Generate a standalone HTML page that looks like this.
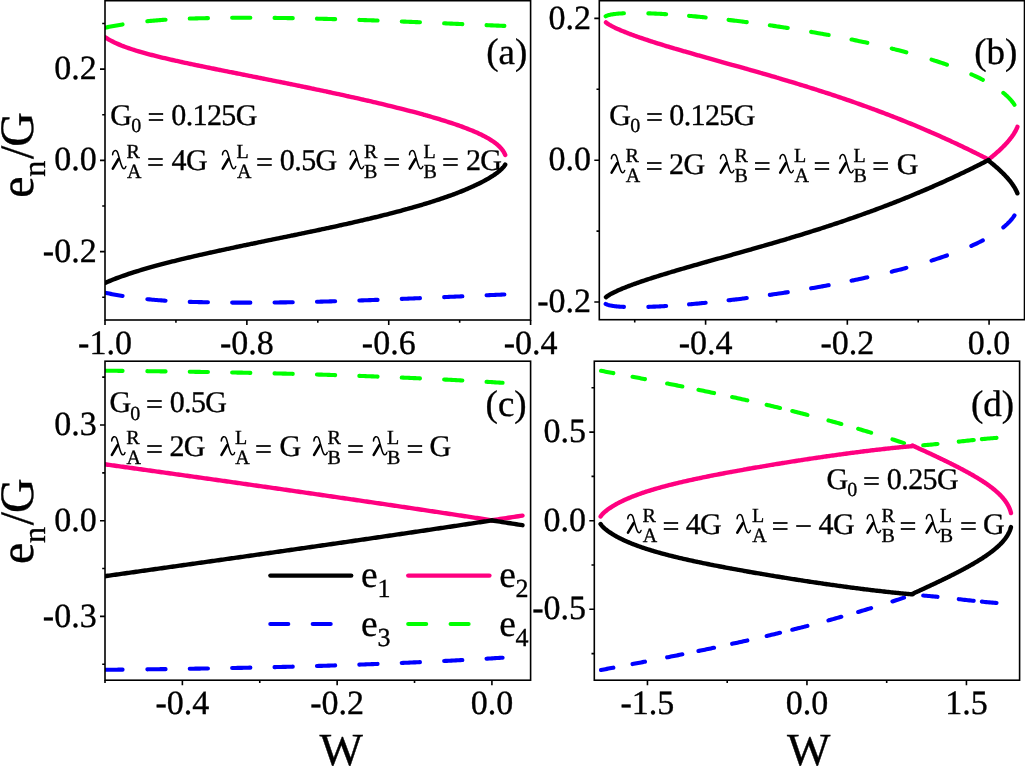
<!DOCTYPE html><html><head><meta charset="utf-8"><title>e_n/G vs W</title>
<style>html,body{margin:0;padding:0;background:#fff;overflow:hidden}svg{display:block;will-change:transform}text{font-family:"Liberation Serif", serif;fill:#000;stroke:#000;stroke-width:0.35px;text-rendering:geometricPrecision}</style></head><body>
<svg width="1025" height="767" viewBox="0 0 1025 767">
<rect width="1025" height="767" fill="#fff"/>
<defs>
<clipPath id="clipa"><rect x="105" y="0.7" width="425.6" height="319.3"/></clipPath>
<clipPath id="clipb"><rect x="599.3" y="0.7" width="425.2" height="319"/></clipPath>
<clipPath id="clipc"><rect x="105" y="361.2" width="425.6" height="319"/></clipPath>
<clipPath id="clipd"><rect x="594.3" y="361.2" width="425.3" height="319"/></clipPath>
</defs>
<path d="M104.78 27.76L106.27 27.44L107.75 27.13L109.23 26.83L110.72 26.53L112.2 26.24L113.68 25.96L115.17 25.68L116.65 25.41L118.14 25.15L119.63 24.9L121.11 24.65L122.6 24.4L124.08 24.17L125.57 23.94L127.06 23.71L128.55 23.49L130.03 23.28L131.52 23.07L133.01 22.87L134.5 22.67L135.99 22.48L137.48 22.3L138.97 22.12L140.46 21.94L141.95 21.78L143.44 21.61L144.93 21.45L146.42 21.3L147.91 21.15L149.41 21L150.9 20.86L152.39 20.73L153.88 20.6L155.38 20.47L156.87 20.35L158.36 20.23L159.86 20.11L161.35 20L162.84 19.9L164.34 19.8L165.83 19.7L167.33 19.6L168.82 19.51L170.32 19.42L171.82 19.34L173.31 19.26L174.81 19.18L176.3 19.11L177.8 19.04L179.3 18.97L180.8 18.9L182.29 18.84L183.79 18.78L185.29 18.72L186.79 18.67L188.29 18.61L189.78 18.56L191.28 18.52L192.78 18.47L194.28 18.43L195.78 18.39L197.28 18.35L198.78 18.31L200.28 18.27L201.78 18.24L203.28 18.21L204.78 18.18L206.28 18.15L207.79 18.12L209.29 18.09L210.79 18.07L212.29 18.04L213.79 18.02L215.29 17.99L216.8 17.97L218.3 17.95L219.8 17.93L221.3 17.92L222.81 17.9L224.31 17.88L225.81 17.87L227.32 17.85L228.82 17.84L230.33 17.83L231.83 17.82L233.33 17.81L234.84 17.8L236.34 17.79L237.85 17.79L239.35 17.78L240.86 17.78L242.36 17.77L243.87 17.77L245.37 17.77L246.88 17.77L248.38 17.77L249.89 17.77L251.4 17.77L252.9 17.77L254.41 17.78L255.91 17.78L257.42 17.79L258.93 17.79L260.43 17.8L261.94 17.81L263.45 17.82L264.95 17.83L266.46 17.84L267.97 17.85L269.48 17.86L270.98 17.88L272.49 17.89L274 17.91L275.51 17.92L277.01 17.94L278.52 17.96L280.03 17.98L281.54 18L283.05 18.02L284.55 18.04L286.06 18.06L287.57 18.08L289.08 18.11L290.59 18.13L292.1 18.15L293.6 18.18L295.11 18.21L296.62 18.23L298.13 18.26L299.64 18.29L301.15 18.32L302.66 18.35L304.17 18.38L305.68 18.41L307.18 18.44L308.69 18.48L310.2 18.51L311.71 18.54L313.22 18.58L314.73 18.61L316.24 18.65L317.75 18.68L319.26 18.72L320.77 18.76L322.28 18.8L323.79 18.84L325.3 18.88L326.81 18.92L328.32 18.96L329.83 19L331.33 19.04L332.84 19.08L334.35 19.13L335.86 19.17L337.37 19.21L338.88 19.26L340.39 19.3L341.9 19.35L343.41 19.4L344.92 19.44L346.43 19.49L347.94 19.54L349.45 19.59L350.96 19.64L352.47 19.69L353.98 19.74L355.49 19.79L357 19.84L358.51 19.89L360.01 19.94L361.52 19.99L363.03 20.04L364.54 20.1L366.05 20.15L367.56 20.2L369.07 20.26L370.58 20.31L372.09 20.37L373.6 20.42L375.1 20.48L376.61 20.53L378.12 20.59L379.63 20.65L381.14 20.7L382.65 20.76L384.16 20.82L385.66 20.88L387.17 20.93L388.68 20.99L390.19 21.05L391.7 21.11L393.21 21.17L394.71 21.23L396.22 21.29L397.73 21.35L399.24 21.41L400.74 21.47L402.25 21.53L403.76 21.59L405.27 21.66L406.77 21.72L408.28 21.78L409.79 21.84L411.29 21.91L412.8 21.97L414.31 22.03L415.81 22.09L417.32 22.16L418.82 22.22L420.33 22.28L421.84 22.35L423.34 22.41L424.85 22.48L426.35 22.54L427.86 22.6L429.36 22.67L430.87 22.73L432.37 22.8L433.88 22.86L435.38 22.93L436.89 22.99L438.39 23.06L439.9 23.12L441.4 23.19L442.9 23.25L444.41 23.32L445.91 23.38L447.42 23.45L448.92 23.51L450.42 23.58L451.92 23.64L453.43 23.71L454.93 23.78L456.43 23.84L457.93 23.91L459.44 23.97L460.94 24.04L462.44 24.1L463.94 24.17L465.44 24.23L466.94 24.3L468.44 24.36L469.94 24.43L471.44 24.49L472.94 24.56L474.44 24.62L475.94 24.69L477.44 24.75L478.94 24.82L480.44 24.88L481.94 24.95L483.44 25.01L484.94 25.07L486.44 25.14L487.93 25.2L489.43 25.27L490.93 25.33L492.43 25.39L493.92 25.46L495.42 25.52L496.92 25.58L498.41 25.64L499.91 25.71L501.41 25.77L502.9 25.83L504.4 25.89" fill="none" stroke="#00ff00" stroke-width="4.1" stroke-linecap="round" stroke-linejoin="round" stroke-dasharray="18.08 25.01 18.26 24.23 18.21 24.2 18.2 24.2 18.2 24.21 18.21 24.21 18.21 24.22 18.22 24.22 18.22 24.22 17.86 5000" stroke-dashoffset="-0" clip-path="url(#clipa)"/>
<path d="M104.78 292.64L106.27 292.96L107.75 293.27L109.23 293.57L110.72 293.87L112.2 294.16L113.68 294.44L115.17 294.72L116.65 294.99L118.14 295.25L119.63 295.5L121.11 295.75L122.6 296L124.08 296.23L125.57 296.46L127.06 296.69L128.55 296.91L130.03 297.12L131.52 297.33L133.01 297.53L134.5 297.73L135.99 297.92L137.48 298.1L138.97 298.28L140.46 298.46L141.95 298.62L143.44 298.79L144.93 298.95L146.42 299.1L147.91 299.25L149.41 299.4L150.9 299.54L152.39 299.67L153.88 299.8L155.38 299.93L156.87 300.05L158.36 300.17L159.86 300.29L161.35 300.4L162.84 300.5L164.34 300.6L165.83 300.7L167.33 300.8L168.82 300.89L170.32 300.98L171.82 301.06L173.31 301.14L174.81 301.22L176.3 301.29L177.8 301.36L179.3 301.43L180.8 301.5L182.29 301.56L183.79 301.62L185.29 301.68L186.79 301.73L188.29 301.79L189.78 301.84L191.28 301.88L192.78 301.93L194.28 301.97L195.78 302.01L197.28 302.05L198.78 302.09L200.28 302.13L201.78 302.16L203.28 302.19L204.78 302.22L206.28 302.25L207.79 302.28L209.29 302.31L210.79 302.33L212.29 302.36L213.79 302.38L215.29 302.41L216.8 302.43L218.3 302.45L219.8 302.47L221.3 302.48L222.81 302.5L224.31 302.52L225.81 302.53L227.32 302.55L228.82 302.56L230.33 302.57L231.83 302.58L233.33 302.59L234.84 302.6L236.34 302.61L237.85 302.61L239.35 302.62L240.86 302.62L242.36 302.63L243.87 302.63L245.37 302.63L246.88 302.63L248.38 302.63L249.89 302.63L251.4 302.63L252.9 302.63L254.41 302.62L255.91 302.62L257.42 302.61L258.93 302.61L260.43 302.6L261.94 302.59L263.45 302.58L264.95 302.57L266.46 302.56L267.97 302.55L269.48 302.54L270.98 302.52L272.49 302.51L274 302.49L275.51 302.48L277.01 302.46L278.52 302.44L280.03 302.42L281.54 302.4L283.05 302.38L284.55 302.36L286.06 302.34L287.57 302.32L289.08 302.29L290.59 302.27L292.1 302.25L293.6 302.22L295.11 302.19L296.62 302.17L298.13 302.14L299.64 302.11L301.15 302.08L302.66 302.05L304.17 302.02L305.68 301.99L307.18 301.96L308.69 301.92L310.2 301.89L311.71 301.86L313.22 301.82L314.73 301.79L316.24 301.75L317.75 301.72L319.26 301.68L320.77 301.64L322.28 301.6L323.79 301.56L325.3 301.52L326.81 301.48L328.32 301.44L329.83 301.4L331.33 301.36L332.84 301.32L334.35 301.27L335.86 301.23L337.37 301.19L338.88 301.14L340.39 301.1L341.9 301.05L343.41 301L344.92 300.96L346.43 300.91L347.94 300.86L349.45 300.81L350.96 300.76L352.47 300.71L353.98 300.66L355.49 300.61L357 300.56L358.51 300.51L360.01 300.46L361.52 300.41L363.03 300.36L364.54 300.3L366.05 300.25L367.56 300.2L369.07 300.14L370.58 300.09L372.09 300.03L373.6 299.98L375.1 299.92L376.61 299.87L378.12 299.81L379.63 299.75L381.14 299.7L382.65 299.64L384.16 299.58L385.66 299.52L387.17 299.47L388.68 299.41L390.19 299.35L391.7 299.29L393.21 299.23L394.71 299.17L396.22 299.11L397.73 299.05L399.24 298.99L400.74 298.93L402.25 298.87L403.76 298.81L405.27 298.74L406.77 298.68L408.28 298.62L409.79 298.56L411.29 298.49L412.8 298.43L414.31 298.37L415.81 298.31L417.32 298.24L418.82 298.18L420.33 298.12L421.84 298.05L423.34 297.99L424.85 297.92L426.35 297.86L427.86 297.8L429.36 297.73L430.87 297.67L432.37 297.6L433.88 297.54L435.38 297.47L436.89 297.41L438.39 297.34L439.9 297.28L441.4 297.21L442.9 297.15L444.41 297.08L445.91 297.02L447.42 296.95L448.92 296.89L450.42 296.82L451.92 296.76L453.43 296.69L454.93 296.62L456.43 296.56L457.93 296.49L459.44 296.43L460.94 296.36L462.44 296.3L463.94 296.23L465.44 296.17L466.94 296.1L468.44 296.04L469.94 295.97L471.44 295.91L472.94 295.84L474.44 295.78L475.94 295.71L477.44 295.65L478.94 295.58L480.44 295.52L481.94 295.45L483.44 295.39L484.94 295.33L486.44 295.26L487.93 295.2L489.43 295.13L490.93 295.07L492.43 295.01L493.92 294.94L495.42 294.88L496.92 294.82L498.41 294.76L499.91 294.69L501.41 294.63L502.9 294.57L504.4 294.51" fill="none" stroke="#0000ff" stroke-width="4.1" stroke-linecap="round" stroke-linejoin="round" stroke-dasharray="18.08 25.01 18.26 24.23 18.21 24.2 18.2 24.2 18.2 24.21 18.21 24.21 18.21 24.22 18.22 24.22 18.22 24.22 17.86 5000" stroke-dashoffset="-0" clip-path="url(#clipa)"/>
<path d="M104.8 37L105.75 37.64L106.63 38.2L107.73 38.88L108.46 39.31L109.82 40.08L110.9 40.67L112.02 41.26L113.16 41.83L113.94 42.22L115.52 42.96L116.75 43.52L117.6 43.89L119.27 44.61L120.57 45.15L121.25 45.42L121.9 45.68L123.08 46.14L124.63 46.72L126.04 47.24L126.74 47.49L127.47 47.75L128.57 48.14L130.4 48.76L131.91 49.26L133.43 49.75L134.05 49.95L134.99 50.25L135.88 50.52L136.56 50.73L137.71 51.08L139.54 51.63L141.37 52.16L143.1 52.66L144.8 53.13L146.51 53.6L148.25 54.07L150.01 54.54L151.79 55L153.59 55.47L155.41 55.93L157.26 56.39L159.12 56.85L161.01 57.31L162.92 57.77L164.84 58.23L166.79 58.68L168.75 59.14L170.62 59.57L172.45 59.98L174.28 60.4L176.1 60.81L176.79 60.96L177.93 61.21L178.85 61.41L179.76 61.61L180.93 61.87L181.59 62.01L183.02 62.32L185.12 62.78L187.07 63.2L188.9 63.59L190.73 63.98L191.54 64.15L192.56 64.36L193.72 64.6L194.39 64.75L195.91 65.06L198.04 65.51L199.87 65.89L201.7 66.26L202.56 66.44L203.53 66.64L204.8 66.9L207.06 67.36L209.01 67.76L210.84 68.13L211.62 68.29L212.67 68.5L213.92 68.76L216.23 69.22L218.16 69.61L219.98 69.98L220.88 70.16L221.81 70.35L223.23 70.63L225.47 71.08L227.3 71.44L227.95 71.58L229.12 71.81L230.33 72.05L230.95 72.17L232.72 72.53L234.61 72.9L236.44 73.27L237.52 73.48L238.27 73.63L239.94 73.96L241.92 74.36L243.75 74.72L244.79 74.93L245.58 75.08L247.23 75.41L249.24 75.81L251.06 76.17L252.13 76.39L252.89 76.54L254.6 76.88L256.55 77.27L258.38 77.63L259.54 77.86L260.21 77.99L262.02 78.35L263.86 78.72L264.5 78.85L265.69 79.09L266.99 79.35L269.35 79.82L271.18 80.19L271.98 80.35L273 80.55L274.49 80.85L276.66 81.29L278.49 81.66L279.5 81.86L280.32 82.02L282.01 82.37L283.97 82.76L285.8 83.13L287.04 83.38L287.63 83.5L289.46 83.88L291.29 84.25L292.08 84.41L293.12 84.62L294.6 84.92L296.77 85.37L298.6 85.74L299.64 85.96L300.43 86.12L302.16 86.48L304.09 86.87L304.68 87L305.91 87.25L307.2 87.52L309.57 88.01L311.4 88.39L312.23 88.56L313.23 88.77L314.74 89.09L316.88 89.54L318.71 89.92L319.76 90.14L320.54 90.31L322.27 90.67L324.2 91.08L326.03 91.47L327.27 91.74L327.85 91.86L329.68 92.25L331.51 92.64L332.25 92.8L333.34 93.04L334.73 93.34L337 93.83L338.82 94.22L339.69 94.41L340.65 94.62L342.15 94.95L344.31 95.42L346.14 95.82L347.07 96.03L347.96 96.23L349.51 96.57L351.62 97.04L353.45 97.44L354.38 97.65L355.28 97.85L356.81 98.2L358.94 98.68L360.76 99.09L361.63 99.29L362.59 99.5L364.02 99.83L366.25 100.34L368.08 100.76L368.79 100.92L369.9 101.18L371.15 101.47L373.51 102.02L375.39 102.46L377.22 102.89L378.19 103.12L379.05 103.32L380.51 103.67L382.7 104.19L384.53 104.63L386.36 105.07L387.4 105.32L388.19 105.52L389.67 105.88L391.85 106.41L393.67 106.86L395.5 107.31L396.4 107.54L397.33 107.77L398.62 108.09L400.82 108.64L402.81 109.15L404.64 109.62L406.47 110.09L407.33 110.31L408.3 110.56L409.47 110.86L410.13 111.04L411.59 111.42L413.7 111.98L415.61 112.49L417.44 112.98L419.27 113.47L419.91 113.65L421.1 113.97L421.95 114.2L422.93 114.47L423.97 114.76L424.75 114.98L425.97 115.32L426.58 115.49L427.95 115.88L429.91 116.44L431.85 117L433.78 117.55L435.68 118.11L437.55 118.67L439.38 119.22L441.21 119.78L443.04 120.34L444.87 120.91L446.67 121.48L448.43 122.04L450.16 122.6L451.88 123.17L453.57 123.73L455.23 124.29L455.84 124.5L456.88 124.86L457.66 125.13L458.5 125.42L459.49 125.78L460.1 125.99L461.32 126.43L463.15 127.1L464.75 127.69L466.25 128.26L467.73 128.84L468.63 129.19L470.46 129.92L472.01 130.55L473.38 131.13L474.12 131.44L474.74 131.7L475.95 132.23L477.36 132.86L478.63 133.44L479.6 133.9L481.1 134.61L482.29 135.2L483.26 135.68L484.6 136.37L485.71 136.97L486.79 137.56L487.85 138.16L488.75 138.68L489.88 139.36L490.57 139.79L491.79 140.57L492.4 140.97L493.6 141.79L494.23 142.25L495.29 143.03L496.06 143.63L496.86 144.28L497.6 144.91L498.32 145.55L499 146.19L499.66 146.83L500.29 147.48L500.88 148.13L501.45 148.79L501.99 149.46L502.49 150.12L502.97 150.8L503.37 151.41L503.83 152.16L504.22 152.85L504.58 153.55L504.9 154.26L505.2 154.97" fill="none" stroke="#ff0080" stroke-width="4.4" stroke-linecap="round" stroke-linejoin="round" clip-path="url(#clipa)"/>
<path d="M104.8 283.1L105.75 282.67L106.63 282.27L107.73 281.79L108.46 281.47L109.82 280.9L110.9 280.44L112.02 279.99L113.16 279.53L113.94 279.22L115.52 278.61L116.75 278.14L117.6 277.82L119.27 277.2L120.57 276.73L121.25 276.48L121.9 276.25L123.08 275.84L124.63 275.3L126.04 274.82L126.74 274.58L127.47 274.33L128.57 273.96L130.4 273.36L131.91 272.87L133.43 272.38L134.05 272.19L134.99 271.89L135.88 271.61L136.56 271.4L137.71 271.05L139.54 270.49L141.37 269.94L143.1 269.42L144.8 268.93L146.51 268.43L148.25 267.93L150.01 267.43L151.79 266.93L153.59 266.43L155.41 265.93L157.26 265.43L159.12 264.93L161.01 264.43L162.92 263.92L164.84 263.42L166.79 262.92L168.75 262.41L170.62 261.94L172.45 261.48L174.28 261.02L176.1 260.57L176.79 260.4L177.93 260.12L178.85 259.9L179.76 259.67L180.93 259.39L181.59 259.23L183.02 258.89L185.12 258.38L187.07 257.92L188.9 257.49L190.73 257.06L191.54 256.87L192.56 256.64L193.72 256.37L194.39 256.21L195.91 255.86L198.04 255.37L199.87 254.96L201.7 254.54L202.56 254.35L203.53 254.13L204.8 253.85L207.06 253.34L209.01 252.91L210.84 252.5L211.62 252.33L212.67 252.1L213.92 251.83L216.23 251.32L218.16 250.9L219.98 250.51L220.88 250.31L221.81 250.11L223.23 249.81L225.47 249.33L227.3 248.94L227.95 248.8L229.12 248.55L230.33 248.29L230.95 248.16L232.72 247.79L234.61 247.39L236.44 247L237.52 246.77L238.27 246.62L239.94 246.27L241.92 245.85L243.75 245.47L244.79 245.25L245.58 245.09L247.23 244.75L249.24 244.33L251.06 243.95L252.13 243.73L252.89 243.57L254.6 243.22L256.55 242.82L258.38 242.44L259.54 242.2L260.21 242.07L262.02 241.69L263.86 241.32L264.5 241.18L265.69 240.94L266.99 240.67L269.35 240.19L271.18 239.81L271.98 239.65L273 239.44L274.49 239.14L276.66 238.69L278.49 238.32L279.5 238.11L280.32 237.94L282.01 237.59L283.97 237.19L285.8 236.82L287.04 236.56L287.63 236.44L289.46 236.06L291.29 235.69L292.08 235.53L293.12 235.31L294.6 235.01L296.77 234.56L298.6 234.18L299.64 233.96L300.43 233.8L302.16 233.44L304.09 233.04L304.68 232.92L305.91 232.66L307.2 232.39L309.57 231.9L311.4 231.51L312.23 231.34L313.23 231.13L314.74 230.81L316.88 230.36L318.71 229.98L319.76 229.75L320.54 229.59L322.27 229.22L324.2 228.81L326.03 228.42L327.27 228.15L327.85 228.03L329.68 227.63L331.51 227.24L332.25 227.08L333.34 226.84L334.73 226.54L337 226.05L338.82 225.65L339.69 225.46L340.65 225.25L342.15 224.91L344.31 224.44L346.14 224.03L347.07 223.82L347.96 223.62L349.51 223.27L351.62 222.8L353.45 222.39L354.38 222.17L355.28 221.97L356.81 221.62L358.94 221.13L360.76 220.71L361.63 220.51L362.59 220.28L364.02 219.95L366.25 219.43L368.08 219L368.79 218.83L369.9 218.56L371.15 218.26L373.51 217.7L375.39 217.24L377.22 216.8L378.19 216.56L379.05 216.35L380.51 215.99L382.7 215.45L384.53 214.99L386.36 214.53L387.4 214.27L388.19 214.07L389.67 213.69L391.85 213.13L393.67 212.66L395.5 212.18L396.4 211.94L397.33 211.7L398.62 211.36L400.82 210.77L402.81 210.23L404.64 209.74L406.47 209.24L407.33 209L408.3 208.73L409.47 208.4L410.13 208.22L411.59 207.81L413.7 207.21L415.61 206.66L417.44 206.13L419.27 205.6L419.91 205.41L421.1 205.06L421.95 204.8L422.93 204.51L423.97 204.2L424.75 203.96L425.97 203.59L426.58 203.4L427.95 202.98L429.91 202.37L431.85 201.76L433.78 201.15L435.68 200.53L437.55 199.92L439.38 199.32L441.21 198.7L443.04 198.08L444.87 197.45L446.67 196.82L448.43 196.2L450.16 195.58L451.88 194.95L453.57 194.33L455.23 193.7L455.84 193.48L456.88 193.08L457.66 192.78L458.5 192.45L459.49 192.07L460.1 191.83L461.32 191.34L463.15 190.61L464.75 189.95L466.25 189.32L466.81 189.09L467.73 188.7L468.63 188.31L470.46 187.51L472.01 186.82L473.38 186.2L474.12 185.86L474.74 185.57L475.95 185.01L477.36 184.33L478.63 183.71L479.6 183.23L481.1 182.48L482.29 181.86L483.26 181.35L484.6 180.63L485.71 180.03L486.79 179.42L487.85 178.81L488.75 178.29L489.88 177.61L490.57 177.19L491.79 176.42L492.4 176.03L493.6 175.25L494.23 174.82L495.29 174.09L496.06 173.54L496.86 172.94L497.6 172.38L498.32 171.82L499 171.26L499.66 170.71L500.29 170.17L500.88 169.63L501.45 169.1L501.99 168.58L502.49 168.06L502.97 167.54L503.37 167.09L503.83 166.54L504.22 166.05L504.9 165.1L505.2 164.63" fill="none" stroke="#000000" stroke-width="4.4" stroke-linecap="round" stroke-linejoin="round" clip-path="url(#clipa)"/>
<path d="M605.5 16.36L606.16 15.99L606.97 15.65L607.9 15.33L608.98 15.03L609.56 14.88L610.18 14.74L610.83 14.61L611.52 14.48L612.24 14.36L612.97 14.25L613.78 14.13L614.6 14.02L615.45 13.92L616.33 13.83L617.25 13.74L618.2 13.66L619.17 13.58L620.19 13.5L621.23 13.44L622.31 13.38L623.41 13.32L624.18 13.29L625.72 13.23L626.92 13.19L627.91 13.16L629.41 13.13L630.7 13.11L631.65 13.1L633.37 13.09L634.75 13.09L635.38 13.09L636.16 13.09L637.25 13.1L639.07 13.11L640.56 13.14L642.09 13.16L642.85 13.18L643.64 13.2L644.72 13.22L646.59 13.28L648.45 13.33L650.12 13.39L651.81 13.46L653.52 13.53L655.27 13.6L655.92 13.63L657.03 13.69L657.79 13.72L658.83 13.77L659.66 13.82L660.64 13.87L661.53 13.92L662.49 13.97L663.39 14.02L664.36 14.08L665.26 14.13L666.25 14.19L667.13 14.24L668.16 14.31L669 14.36L670.11 14.43L670.87 14.48L672.07 14.57L672.73 14.61L674.05 14.7L676.06 14.85L678.1 15L680.15 15.15L682.07 15.3L683.94 15.45L685.81 15.6L686.44 15.66L687.67 15.76L688.58 15.84L689.54 15.92L690.74 16.02L691.41 16.08L692.92 16.21L695.12 16.41L697.01 16.59L698.88 16.76L699.58 16.83L700.75 16.94L701.83 17.04L702.61 17.12L704.11 17.26L706.35 17.49L708.22 17.68L710.08 17.87L711.03 17.97L711.95 18.06L713.38 18.21L715.69 18.46L717.55 18.66L719.42 18.87L720.5 18.99L721.29 19.08L722.91 19.26L725.02 19.5L726.89 19.71L727.76 19.81L728.76 19.93L730.21 20.1L732.5 20.37L734.36 20.6L735.15 20.69L736.23 20.83L737.64 21L739.97 21.29L741.83 21.52L742.65 21.62L743.7 21.76L745.17 21.95L747.44 22.24L749.3 22.48L750.25 22.61L751.17 22.73L752.81 22.95L754.91 23.23L756.77 23.48L757.95 23.64L758.64 23.74L760.51 24L762.38 24.26L763.12 24.36L764.24 24.52L765.72 24.73L767.98 25.05L769.85 25.32L770.95 25.48L771.72 25.59L773.57 25.86L775.45 26.14L776.2 26.25L777.32 26.42L778.83 26.65L781.05 26.98L782.92 27.27L784.11 27.45L784.79 27.56L786.65 27.85L788.52 28.14L789.41 28.28L790.39 28.43L792.07 28.7L794.13 29.03L794.73 29.13L795.99 29.33L797.39 29.56L799.73 29.95L801.6 30.25L802.72 30.44L803.46 30.57L805.33 30.88L807.2 31.2L808.06 31.34L809.07 31.52L810.73 31.8L812.8 32.16L813.4 32.27L814.67 32.49L816.07 32.74L818.4 33.15L820.27 33.49L821.4 33.69L822.14 33.82L824.01 34.16L825.87 34.5L826.74 34.66L827.74 34.85L829.4 35.16L831.48 35.55L833.35 35.9L834.71 36.16L837.08 36.62L838.95 36.98L840.01 37.19L840.82 37.34L842.65 37.71L844.55 38.08L845.29 38.23L846.42 38.46L847.92 38.76L850.15 39.21L852.02 39.59L853.17 39.83L853.89 39.98L855.76 40.37L857.62 40.76L858.38 40.92L859.49 41.16L860.98 41.48L863.23 41.96L865.09 42.36L866.15 42.6L866.96 42.77L868.72 43.16L870.7 43.6L871.28 43.73L872.56 44.02L873.84 44.31L874.43 44.45L876.3 44.87L878.17 45.31L878.91 45.48L880.03 45.74L881.43 46.07L883.77 46.62L885.64 47.07L886.43 47.26L887.5 47.52L888.92 47.87L891.24 48.44L893.11 48.9L893.85 49.09L894.98 49.37L896.29 49.7L898.71 50.32L900.58 50.8L902.45 51.29L903.54 51.58L904.31 51.78L905.93 52.21L908.05 52.78L909.92 53.29L910.65 53.49L911.78 53.81L912.99 54.14L913.65 54.32L915.31 54.79L917.39 55.38L919.25 55.92L919.9 56.11L921.12 56.46L922.17 56.77L922.99 57.01L924.42 57.44L926.65 58.11L928.59 58.7L930.46 59.28L931.06 59.46L932.33 59.86L933.23 60.15L934.19 60.45L935.38 60.83L936.06 61.05L937.52 61.53L939.63 62.22L941.66 62.9L943.53 63.54L945.4 64.18L947.27 64.83L947.86 65.04L949.13 65.49L949.86 65.76L951 66.17L951.84 66.47L952.87 66.85L953.8 67.2L954.74 67.55L955.73 67.92L956.61 68.25L957.64 68.65L958.47 68.97L959.53 69.38L960.34 69.7L961.39 70.12L962.21 70.45L963.22 70.86L964.08 71.21L965.03 71.6L965.94 71.98L966.82 72.35L967.81 72.77L968.58 73.1L969.68 73.58L970.31 73.86L971.55 74.4L973.41 75.25L975.28 76.11L976.98 76.91L978.58 77.68L980.15 78.45L980.88 78.82L981.69 79.23L982.75 79.78L984.62 80.76L986.15 81.58L987.58 82.37L988.35 82.81L988.98 83.17L990.22 83.89L991.69 84.76L993 85.57L993.96 86.16L995.54 87.18L996.76 87.99L997.69 88.63L999.11 89.63L1000.23 90.45L1001.33 91.27L1002.4 92.1L1003.29 92.82L1004.43 93.76L1005.16 94.38L1006.34 95.43L1007.03 96.06L1008.12 97.11L1008.9 97.89L1009.77 98.8L1010.54 99.65L1011.29 100.5L1012 101.36L1012.63 102.16L1013.32 103.08L1013.92 103.94L1014.5 104.8" fill="none" stroke="#00ff00" stroke-width="4.1" stroke-linecap="round" stroke-linejoin="round" stroke-dasharray="18.66 24.41 17.82 22.96 16.67 23.03 18.34 23.32 18.1 23.72 17.78 23.33 16.15 25.06 15.08 26.24 16.22 26.23 12.75 24.33 16.4 5000" stroke-dashoffset="-0.17" clip-path="url(#clipb)"/>
<path d="M605.5 303.84L606.16 304.21L606.97 304.55L607.9 304.87L608.98 305.17L609.56 305.32L610.18 305.46L610.83 305.59L611.52 305.72L612.24 305.84L612.97 305.95L613.78 306.07L614.6 306.18L615.45 306.28L616.33 306.37L617.25 306.46L618.2 306.54L619.17 306.62L620.19 306.7L621.23 306.76L622.31 306.82L623.41 306.88L624.18 306.91L625.72 306.97L626.92 307.01L627.91 307.04L629.41 307.07L630.7 307.09L631.65 307.1L633.37 307.11L634.75 307.11L635.38 307.11L636.16 307.11L637.25 307.1L639.07 307.09L640.56 307.06L642.09 307.04L642.85 307.02L643.64 307L644.72 306.98L646.59 306.92L648.45 306.87L650.12 306.81L651.81 306.74L653.52 306.67L655.27 306.6L655.92 306.57L657.03 306.51L657.79 306.48L658.83 306.43L659.66 306.38L660.64 306.33L661.53 306.28L662.49 306.23L663.39 306.18L664.36 306.12L665.26 306.07L666.25 306.01L667.13 305.96L668.16 305.89L669 305.84L670.11 305.77L670.87 305.72L672.07 305.63L672.73 305.59L674.05 305.5L676.06 305.35L678.1 305.2L680.15 305.05L682.07 304.9L683.94 304.75L685.81 304.6L686.44 304.54L687.67 304.44L688.58 304.36L689.54 304.28L690.74 304.18L691.41 304.12L692.92 303.99L695.12 303.79L697.01 303.61L698.88 303.44L699.58 303.37L700.75 303.26L701.83 303.16L702.61 303.08L704.11 302.94L706.35 302.71L708.22 302.52L710.08 302.33L711.03 302.23L711.95 302.14L713.38 301.99L715.69 301.74L717.55 301.54L719.42 301.33L720.5 301.21L721.29 301.12L722.91 300.94L725.02 300.7L726.89 300.49L727.76 300.39L728.76 300.27L730.21 300.1L732.5 299.83L734.36 299.6L735.15 299.51L736.23 299.37L737.64 299.2L739.97 298.91L741.83 298.68L742.65 298.58L743.7 298.44L745.17 298.25L747.44 297.96L749.3 297.72L750.25 297.59L751.17 297.47L752.81 297.25L754.91 296.97L756.77 296.72L757.95 296.56L758.64 296.46L760.51 296.2L762.38 295.94L763.12 295.84L764.24 295.68L765.72 295.47L767.98 295.15L769.85 294.88L770.95 294.72L771.72 294.61L773.57 294.34L775.45 294.06L776.2 293.95L777.32 293.78L778.83 293.55L781.05 293.22L782.92 292.93L784.11 292.75L784.79 292.64L786.65 292.35L788.52 292.06L789.41 291.92L790.39 291.77L792.07 291.5L794.13 291.17L794.73 291.07L795.99 290.87L797.39 290.64L799.73 290.25L801.6 289.95L802.72 289.76L803.46 289.63L805.33 289.32L807.2 289L808.06 288.86L809.07 288.68L810.73 288.4L812.8 288.04L813.4 287.93L814.67 287.71L816.07 287.46L818.4 287.05L820.27 286.71L821.4 286.51L822.14 286.38L824.01 286.04L825.87 285.7L826.74 285.54L827.74 285.35L829.4 285.04L831.48 284.65L833.35 284.3L834.71 284.04L837.08 283.58L838.95 283.22L840.01 283.01L840.82 282.86L842.65 282.49L844.55 282.12L845.29 281.97L846.42 281.74L847.92 281.44L850.15 280.99L852.02 280.61L853.17 280.37L853.89 280.22L855.76 279.83L857.62 279.44L858.38 279.28L859.49 279.04L860.98 278.72L863.23 278.24L865.09 277.84L866.15 277.6L866.96 277.43L868.72 277.04L870.7 276.6L871.28 276.47L872.56 276.18L873.84 275.89L874.43 275.75L876.3 275.33L878.17 274.89L878.91 274.72L880.03 274.46L881.43 274.13L883.77 273.58L885.64 273.13L886.43 272.94L887.5 272.68L888.92 272.33L891.24 271.76L893.11 271.3L893.85 271.11L894.98 270.83L896.29 270.5L898.71 269.88L900.58 269.4L902.45 268.91L903.54 268.62L904.31 268.42L905.93 267.99L908.05 267.42L909.92 266.91L910.65 266.71L911.78 266.39L912.99 266.06L913.65 265.88L915.31 265.41L917.39 264.82L919.25 264.28L919.9 264.09L921.12 263.74L922.17 263.43L922.99 263.19L924.42 262.76L926.65 262.09L928.59 261.5L930.46 260.92L931.06 260.74L932.33 260.34L933.23 260.05L934.19 259.75L935.38 259.37L936.06 259.15L937.52 258.67L939.63 257.98L941.66 257.3L943.53 256.66L945.4 256.02L947.27 255.37L947.86 255.16L949.13 254.71L949.86 254.44L951 254.03L951.84 253.73L952.87 253.35L953.8 253L954.74 252.65L955.73 252.28L956.61 251.95L957.64 251.55L958.47 251.23L959.53 250.82L960.34 250.5L961.39 250.08L962.21 249.75L963.22 249.34L964.08 248.99L965.03 248.6L965.94 248.22L966.82 247.85L967.81 247.43L968.58 247.1L969.68 246.62L970.31 246.34L971.55 245.8L973.41 244.95L975.28 244.09L976.98 243.29L978.58 242.52L980.15 241.75L980.88 241.38L981.69 240.97L982.75 240.42L984.62 239.44L986.15 238.62L987.58 237.83L988.35 237.39L988.98 237.03L990.22 236.31L991.69 235.44L993 234.63L993.96 234.04L995.54 233.02L996.76 232.21L997.69 231.57L999.11 230.57L1000.23 229.75L1001.33 228.93L1002.4 228.1L1003.29 227.38L1004.43 226.44L1005.16 225.82L1006.34 224.77L1007.03 224.14L1008.12 223.09L1008.9 222.31L1009.77 221.4L1010.54 220.55L1011.29 219.7L1012 218.84L1012.63 218.04L1013.32 217.12L1013.92 216.26L1014.5 215.4" fill="none" stroke="#0000ff" stroke-width="4.1" stroke-linecap="round" stroke-linejoin="round" stroke-dasharray="18.66 24.41 17.82 22.96 16.67 23.03 18.34 23.32 18.1 23.72 17.78 23.33 16.15 25.06 15.08 26.24 16.22 26.23 12.75 24.33 16.4 5000" stroke-dashoffset="-0.17" clip-path="url(#clipb)"/>
<path d="M606 22.44L606.48 22.82L607.01 23.22L607.59 23.64L608.24 24.06L608.93 24.5L609.49 24.84L610.09 25.18L610.92 25.65L611.81 26.14L612.76 26.63L613.77 27.14L614.74 27.61L615.38 27.92L615.94 28.19L616.52 28.45L617.11 28.73L617.72 29L618.34 29.28L618.97 29.56L619.62 29.84L620.28 30.12L620.96 30.41L621.65 30.7L622.35 31L623.07 31.29L623.8 31.59L624.55 31.89L625.22 32.16L626.08 32.5L626.87 32.81L627.67 33.12L628.48 33.43L629.31 33.75L630.15 34.07L631.01 34.39L631.88 34.71L632.77 35.04L633.67 35.37L634.58 35.7L635.5 36.03L636.44 36.36L637.4 36.7L638.37 37.04L639.19 37.33L640.34 37.73L640.94 37.93L642.38 38.42L643.41 38.78L644.43 39.12L645.53 39.49L646.18 39.7L647.71 40.21L648.81 40.57L649.68 40.85L651.07 41.3L652.22 41.67L653.17 41.98L654.56 42.42L655.75 42.8L656.66 43.09L658.17 43.56L659.4 43.94L660.16 44.18L661.9 44.72L663.18 45.11L664.47 45.5L665.4 45.79L667.09 46.3L668.42 46.7L669.76 47.1L670.64 47.37L672.39 47.89L673.88 48.33L675.27 48.74L675.88 48.92L676.69 49.16L677.63 49.44L679.38 49.95L681.01 50.43L682.48 50.85L683.96 51.28L684.62 51.47L685.46 51.72L686.36 51.98L686.97 52.15L688.11 52.48L689.86 52.98L691.59 53.47L693.15 53.92L694.73 54.37L696.33 54.82L697.93 55.28L698.59 55.47L699.55 55.74L700.34 55.96L701.19 56.2L702.09 56.45L702.84 56.66L703.83 56.94L704.5 57.13L705.58 57.44L706.18 57.6L707.33 57.93L709.08 58.42L710.82 58.91L712.57 59.4L714.32 59.89L716.06 60.37L717.81 60.86L719.56 61.35L721.3 61.84L721.9 62.01L723.05 62.33L723.72 62.51L724.8 62.82L725.55 63.03L726.54 63.3L727.4 63.54L728.29 63.79L729.25 64.06L730.04 64.28L731.13 64.59L731.79 64.77L733.01 65.11L734.91 65.65L736.83 66.18L738.75 66.72L740.52 67.22L742.27 67.71L744.02 68.21L744.62 68.38L745.76 68.7L746.61 68.94L747.51 69.19L748.6 69.5L749.26 69.69L750.61 70.07L752.64 70.65L754.5 71.17L756.25 71.67L757.99 72.17L758.8 72.4L759.74 72.67L760.88 73L761.49 73.17L762.97 73.6L764.98 74.18L766.73 74.68L768.47 75.19L769.34 75.44L770.22 75.69L771.49 76.06L773.66 76.69L775.46 77.22L777.21 77.74L778.03 77.98L778.96 78.25L780.23 78.63L782.45 79.28L784.2 79.8L785.94 80.32L786.93 80.62L787.69 80.84L789.2 81.29L791.18 81.89L792.93 82.42L793.76 82.67L794.68 82.95L796.07 83.37L798.17 84.01L799.92 84.55L800.71 84.79L801.67 85.08L803.06 85.51L805.16 86.16L806.91 86.7L807.79 86.98L808.66 87.25L810.18 87.73L812.15 88.34L813.9 88.9L814.99 89.24L815.64 89.45L817.39 90L819.14 90.56L819.87 90.79L820.88 91.12L822.32 91.58L824.38 92.25L826.13 92.82L827.28 93.19L827.87 93.39L829.62 93.96L831.37 94.53L832.29 94.83L833.11 95.11L834.81 95.67L836.61 96.27L837.35 96.52L838.36 96.85L839.91 97.38L841.85 98.03L842.48 98.24L843.6 98.62L845.06 99.12L847.09 99.82L848.84 100.42L850.26 100.91L852.33 101.63L854.08 102.24L855.52 102.74L857.57 103.46L858.17 103.68L859.32 104.08L860.84 104.62L862.81 105.33L863.52 105.58L864.56 105.95L866.21 106.55L868.05 107.21L868.92 107.53L869.8 107.85L871.55 108.49L873.3 109.13L874.37 109.53L875.04 109.78L876.79 110.43L878.54 111.08L879.88 111.58L882.03 112.39L882.66 112.63L883.78 113.05L885.45 113.69L887.27 114.38L888.25 114.76L889.02 115.05L890.77 115.73L892.51 116.41L893.91 116.95L896.01 117.77L896.75 118.07L897.75 118.46L899.5 119.15L901.25 119.85L902.49 120.34L904.74 121.25L905.37 121.51L906.49 121.96L908.24 122.67L909.98 123.38L911.19 123.87L913.48 124.82L914.12 125.08L915.23 125.54L916.97 126.27L918.72 127L920.02 127.55L922.21 128.48L922.99 128.81L923.96 129.22L925.71 129.97L927.45 130.72L928.98 131.37L930.95 132.23L931.99 132.68L932.7 132.99L934.44 133.76L935.01 134.01L936.19 134.53L937.94 135.3L939.68 136.08L941.11 136.72L943.18 137.65L944.18 138.1L944.92 138.44L946.67 139.24L947.26 139.51L948.42 140.03L950.16 140.84L951.91 141.64L953.47 142.37L955.41 143.27L956.59 143.83L957.15 144.09L958.9 144.91L959.73 145.31L960.65 145.74L962.39 146.57L964.14 147.41L965.89 148.25L967.64 149.1L969.23 149.87L971.13 150.8L972.42 151.44L974.62 152.52L975.63 153.02L976.37 153.39L978.12 154.26L978.85 154.63L979.87 155.14L981.61 156.02L983.36 156.9L985.11 157.79L986.85 158.69L988.6 159.58" fill="none" stroke="#ff0080" stroke-width="4.4" stroke-linecap="round" stroke-linejoin="round" clip-path="url(#clipb)"/>
<path d="M988.6 159.46L989.13 159.05L989.65 158.63L990.18 158.21L990.69 157.8L991.23 157.36L991.71 156.97L992.28 156.5L992.81 156.06L993.3 155.66L993.86 155.18L994.39 154.74L994.91 154.29L995.4 153.87L995.96 153.38L996.49 152.92L997.02 152.46L997.54 151.99L998.07 151.52L998.6 151.05L999.12 150.56L999.65 150.08L1000.17 149.59L1000.7 149.09L1001.19 148.63L1001.68 148.16L1002.14 147.7L1002.63 147.23L1003.07 146.79L1003.55 146.3L1003.99 145.86L1004.45 145.39L1004.89 144.93L1005.32 144.47L1005.75 144.02L1006.17 143.57L1006.58 143.12L1006.99 142.67L1007.4 142.2L1007.9 141.63L1008.33 141.14L1008.72 140.67L1009.12 140.2L1009.51 139.72L1009.9 139.24L1010.3 138.74L1010.67 138.26L1011.09 137.72L1011.48 137.2L1011.86 136.69L1012.27 136.12L1012.66 135.55L1013.05 134.99L1013.42 134.43L1013.78 133.87L1014.11 133.35L1014.47 132.77L1014.8 132.22L1015.11 131.67L1015.41 131.13L1015.7 130.59L1015.98 130.05L1016.31 129.38L1016.61 128.74L1016.86 128.18L1017.14 127.53L1017.4 126.87" fill="none" stroke="#ff0080" stroke-width="4.4" stroke-linecap="round" stroke-linejoin="round" clip-path="url(#clipb)"/>
<path d="M606 297.16L606.48 296.78L607.01 296.38L607.59 295.96L608.24 295.54L608.93 295.1L609.49 294.76L610.09 294.42L610.92 293.95L611.81 293.46L612.76 292.97L613.77 292.46L614.74 291.99L615.38 291.68L615.94 291.41L616.52 291.15L617.11 290.87L617.72 290.6L618.34 290.32L618.97 290.04L619.62 289.76L620.28 289.48L620.96 289.19L621.65 288.9L622.35 288.6L623.07 288.31L623.8 288.01L624.55 287.71L625.22 287.44L626.08 287.1L626.87 286.79L627.67 286.48L628.48 286.17L629.31 285.85L630.15 285.53L631.01 285.21L631.88 284.89L632.77 284.56L633.67 284.23L634.58 283.9L635.5 283.57L636.44 283.24L637.4 282.9L638.37 282.56L639.19 282.27L640.34 281.87L640.94 281.67L642.38 281.18L643.41 280.82L644.43 280.48L645.53 280.11L646.18 279.9L647.71 279.39L648.81 279.03L649.68 278.75L651.07 278.3L652.22 277.93L653.17 277.62L654.56 277.18L655.75 276.8L656.66 276.51L658.17 276.04L659.4 275.66L660.16 275.42L661.9 274.88L663.18 274.49L664.47 274.1L665.4 273.81L667.09 273.3L668.42 272.9L669.76 272.5L670.64 272.23L672.39 271.71L673.88 271.27L675.27 270.86L675.88 270.68L676.69 270.44L677.63 270.16L679.38 269.65L681.01 269.17L682.48 268.75L683.96 268.32L684.62 268.13L685.46 267.88L686.36 267.62L686.97 267.45L688.11 267.12L689.86 266.62L691.59 266.13L693.15 265.68L694.73 265.23L696.33 264.78L697.93 264.32L698.59 264.13L699.55 263.86L700.34 263.64L701.19 263.4L702.09 263.15L702.84 262.94L703.83 262.66L704.5 262.47L705.58 262.16L706.18 262L707.33 261.67L709.08 261.18L710.82 260.69L712.57 260.2L714.32 259.71L716.06 259.23L717.81 258.74L719.56 258.25L721.3 257.76L721.9 257.59L723.05 257.27L723.72 257.09L724.8 256.78L725.55 256.57L726.54 256.3L727.4 256.06L728.29 255.81L729.25 255.54L730.04 255.32L731.13 255.01L731.79 254.83L733.01 254.49L734.91 253.95L736.83 253.42L738.75 252.88L740.52 252.38L742.27 251.89L744.02 251.39L744.62 251.22L745.76 250.9L746.61 250.66L747.51 250.41L748.6 250.1L749.26 249.91L750.61 249.53L752.64 248.95L754.5 248.43L756.25 247.93L757.99 247.43L758.8 247.2L759.74 246.93L760.88 246.6L761.49 246.43L762.97 246L764.98 245.42L766.73 244.92L768.47 244.41L769.34 244.16L770.22 243.91L771.49 243.54L773.66 242.91L775.46 242.38L777.21 241.86L778.03 241.62L778.96 241.35L780.23 240.97L782.45 240.32L784.2 239.8L785.94 239.28L786.93 238.98L787.69 238.76L789.2 238.31L791.18 237.71L792.93 237.18L793.76 236.93L794.68 236.65L796.07 236.23L798.17 235.59L799.92 235.05L800.71 234.81L801.67 234.52L803.06 234.09L805.16 233.44L806.91 232.9L807.79 232.62L808.66 232.35L810.18 231.87L812.15 231.26L813.9 230.7L814.99 230.36L815.64 230.15L817.39 229.6L819.14 229.04L819.87 228.81L820.88 228.48L822.32 228.02L824.38 227.35L826.13 226.78L827.28 226.41L827.87 226.21L829.62 225.64L831.37 225.07L832.29 224.77L833.11 224.49L834.81 223.93L836.61 223.33L837.35 223.08L838.36 222.75L839.91 222.22L841.85 221.57L842.48 221.36L843.6 220.98L845.06 220.48L847.09 219.78L848.84 219.18L850.26 218.69L852.33 217.97L854.08 217.36L855.52 216.86L857.57 216.14L858.17 215.92L859.32 215.52L860.84 214.98L862.81 214.27L863.52 214.02L864.56 213.65L866.21 213.05L868.05 212.39L868.92 212.07L869.8 211.75L871.55 211.11L873.3 210.47L874.37 210.07L875.04 209.82L876.79 209.17L878.54 208.52L879.88 208.02L882.03 207.21L882.66 206.97L883.78 206.55L885.45 205.91L887.27 205.22L888.25 204.84L889.02 204.55L890.77 203.87L892.51 203.19L893.91 202.65L896.01 201.83L896.75 201.53L897.75 201.14L899.5 200.45L901.25 199.75L902.49 199.26L904.74 198.35L905.37 198.09L906.49 197.64L908.24 196.93L909.98 196.22L911.19 195.73L913.48 194.78L914.12 194.52L915.23 194.06L916.97 193.33L918.72 192.6L920.02 192.05L922.21 191.12L922.99 190.79L923.96 190.38L925.71 189.63L927.45 188.88L928.98 188.23L930.95 187.37L931.99 186.92L932.7 186.61L934.44 185.84L935.01 185.59L936.19 185.07L937.94 184.3L939.68 183.52L941.11 182.88L943.18 181.95L944.18 181.5L944.92 181.16L946.67 180.36L947.26 180.09L948.42 179.57L950.16 178.76L951.91 177.96L953.47 177.23L955.41 176.33L956.59 175.77L957.15 175.51L958.9 174.69L959.73 174.29L960.65 173.86L962.39 173.03L964.14 172.19L965.89 171.35L967.64 170.5L969.23 169.73L971.13 168.8L972.42 168.16L974.62 167.08L975.63 166.58L976.37 166.21L978.12 165.34L978.85 164.97L979.87 164.46L981.61 163.58L983.36 162.7L985.11 161.81L986.85 160.91L988.6 160.02" fill="none" stroke="#000000" stroke-width="4.4" stroke-linecap="round" stroke-linejoin="round" clip-path="url(#clipb)"/>
<path d="M988.6 160.74L989.13 161.15L989.65 161.57L990.18 161.99L990.69 162.4L991.23 162.84L991.71 163.23L992.28 163.7L992.81 164.14L993.3 164.54L993.86 165.02L994.39 165.46L994.91 165.91L995.4 166.33L995.96 166.82L996.49 167.28L997.02 167.74L997.54 168.21L998.07 168.68L998.6 169.15L999.12 169.64L999.65 170.12L1000.17 170.61L1000.7 171.11L1001.19 171.57L1001.68 172.04L1002.14 172.5L1002.63 172.97L1003.07 173.41L1003.55 173.9L1003.99 174.34L1004.45 174.81L1004.89 175.27L1005.32 175.73L1005.75 176.18L1006.17 176.63L1006.58 177.08L1006.99 177.53L1007.4 178L1007.9 178.57L1008.33 179.06L1008.72 179.53L1009.12 180L1009.51 180.48L1009.9 180.96L1010.3 181.46L1010.67 181.94L1011.09 182.48L1011.48 183L1011.86 183.51L1012.27 184.08L1012.66 184.65L1013.05 185.21L1013.42 185.77L1013.78 186.33L1014.11 186.85L1014.47 187.43L1014.8 187.98L1015.11 188.53L1015.41 189.07L1015.7 189.61L1015.98 190.15L1016.31 190.82L1016.61 191.46L1016.86 192.02L1017.14 192.67L1017.4 193.33" fill="none" stroke="#000000" stroke-width="4.4" stroke-linecap="round" stroke-linejoin="round" clip-path="url(#clipb)"/>
<path d="M104.8 370.69L106.31 370.71L107.81 370.72L109.32 370.74L110.83 370.75L112.34 370.77L113.84 370.78L115.35 370.8L116.86 370.82L118.37 370.83L119.87 370.85L121.38 370.86L122.89 370.88L124.4 370.9L125.9 370.91L127.41 370.93L128.92 370.95L130.43 370.96L131.93 370.98L133.44 371L134.95 371.01L136.46 371.03L137.96 371.05L139.47 371.07L140.98 371.08L142.49 371.1L143.99 371.12L145.5 371.14L147.01 371.16L148.52 371.18L150.02 371.19L151.53 371.21L153.04 371.23L154.55 371.25L156.05 371.27L157.56 371.29L159.07 371.31L160.58 371.33L162.08 371.35L163.59 371.37L165.1 371.39L166.61 371.41L168.11 371.43L169.62 371.45L171.13 371.47L172.64 371.49L174.14 371.51L175.65 371.54L177.16 371.56L178.67 371.58L180.17 371.6L181.68 371.62L183.19 371.65L184.7 371.67L186.2 371.69L187.71 371.71L189.22 371.74L190.73 371.76L192.24 371.78L193.74 371.81L195.25 371.83L196.76 371.86L198.27 371.88L199.77 371.9L201.28 371.93L202.79 371.95L204.3 371.98L205.8 372L207.31 372.03L208.82 372.05L210.33 372.08L211.83 372.11L213.34 372.13L214.85 372.16L216.36 372.19L217.86 372.21L219.37 372.24L220.88 372.27L222.39 372.29L223.89 372.32L225.4 372.35L226.91 372.38L228.42 372.41L229.92 372.44L231.43 372.46L232.94 372.49L234.45 372.52L235.95 372.55L237.46 372.58L238.97 372.61L240.48 372.64L241.98 372.67L243.49 372.7L245 372.74L246.51 372.77L248.01 372.8L249.52 372.83L251.03 372.86L252.54 372.89L254.04 372.93L255.55 372.96L257.06 372.99L258.57 373.03L260.07 373.06L261.58 373.09L263.09 373.13L264.6 373.16L266.1 373.2L267.61 373.23L269.12 373.27L270.62 373.3L272.13 373.34L273.64 373.37L275.15 373.41L276.65 373.45L278.16 373.48L279.67 373.52L281.18 373.56L282.68 373.59L284.19 373.63L285.7 373.67L287.21 373.71L288.71 373.75L290.22 373.79L291.73 373.82L293.23 373.86L294.74 373.9L296.25 373.94L297.76 373.98L299.26 374.03L300.77 374.07L302.28 374.11L303.78 374.15L305.29 374.19L306.8 374.23L308.31 374.28L309.81 374.32L311.32 374.36L312.83 374.4L314.33 374.45L315.84 374.49L317.35 374.54L318.86 374.58L320.36 374.63L321.87 374.67L323.38 374.72L324.88 374.76L326.39 374.81L327.9 374.85L329.41 374.9L330.91 374.95L332.42 375L333.93 375.04L335.43 375.09L336.94 375.14L338.45 375.19L339.95 375.24L341.46 375.29L342.97 375.34L344.47 375.39L345.98 375.44L347.49 375.49L349 375.54L350.5 375.59L352.01 375.64L353.52 375.7L355.02 375.75L356.53 375.8L358.04 375.85L359.54 375.91L361.05 375.96L362.56 376.02L364.06 376.07L365.57 376.12L367.08 376.18L368.58 376.24L370.09 376.29L371.6 376.35L373.1 376.4L374.61 376.46L376.12 376.52L377.62 376.58L379.13 376.64L380.64 376.69L382.14 376.75L383.65 376.81L385.15 376.87L386.66 376.93L388.17 376.99L389.67 377.05L391.18 377.11L392.69 377.18L394.19 377.24L395.7 377.3L397.21 377.36L398.71 377.43L400.22 377.49L401.73 377.55L403.23 377.62L404.74 377.68L406.24 377.75L407.75 377.81L409.26 377.88L410.76 377.94L412.27 378.01L413.77 378.08L415.28 378.15L416.79 378.21L418.29 378.28L419.8 378.35L421.31 378.42L422.81 378.49L424.32 378.56L425.82 378.63L427.33 378.7L428.84 378.77L430.34 378.84L431.85 378.91L433.35 378.99L434.86 379.06L436.36 379.13L437.87 379.21L439.38 379.28L440.88 379.36L442.39 379.43L443.89 379.51L445.4 379.58L446.91 379.66L448.41 379.73L449.92 379.81L451.42 379.89L452.93 379.97L454.43 380.05L455.94 380.12L457.44 380.2L458.95 380.28L460.46 380.36L461.96 380.44L463.47 380.53L464.97 380.61L466.48 380.69L467.98 380.77L469.49 380.85L470.99 380.94L472.5 381.02L474 381.11L475.51 381.19L477.01 381.28L478.52 381.36L480.03 381.45L481.53 381.53L483.04 381.62L484.54 381.71L486.05 381.8L487.55 381.88L489.06 381.97L490.56 382.06L492.07 382.15L493.57 382.24L495.08 382.33L496.58 382.43L498.09 382.52L499.59 382.61L501.1 382.7L502.6 382.8" fill="none" stroke="#00ff00" stroke-width="4.1" stroke-linecap="round" stroke-linejoin="round" stroke-dasharray="17.75 24.8 18.2 24.2 18.2 24.2 18.2 24.21 18.21 24.21 18.21 24.21 18.21 24.22 18.22 24.23 18.22 24.24 16.08 5000" stroke-dashoffset="-0" clip-path="url(#clipc)"/>
<path d="M104.8 669.81L106.31 669.79L107.81 669.78L109.32 669.76L110.83 669.75L112.34 669.73L113.84 669.72L115.35 669.7L116.86 669.68L118.37 669.67L119.87 669.65L121.38 669.64L122.89 669.62L124.4 669.6L125.9 669.59L127.41 669.57L128.92 669.55L130.43 669.54L131.93 669.52L133.44 669.5L134.95 669.49L136.46 669.47L137.96 669.45L139.47 669.43L140.98 669.42L142.49 669.4L143.99 669.38L145.5 669.36L147.01 669.34L148.52 669.32L150.02 669.31L151.53 669.29L153.04 669.27L154.55 669.25L156.05 669.23L157.56 669.21L159.07 669.19L160.58 669.17L162.08 669.15L163.59 669.13L165.1 669.11L166.61 669.09L168.11 669.07L169.62 669.05L171.13 669.03L172.64 669.01L174.14 668.99L175.65 668.96L177.16 668.94L178.67 668.92L180.17 668.9L181.68 668.88L183.19 668.85L184.7 668.83L186.2 668.81L187.71 668.79L189.22 668.76L190.73 668.74L192.24 668.72L193.74 668.69L195.25 668.67L196.76 668.64L198.27 668.62L199.77 668.6L201.28 668.57L202.79 668.55L204.3 668.52L205.8 668.5L207.31 668.47L208.82 668.45L210.33 668.42L211.83 668.39L213.34 668.37L214.85 668.34L216.36 668.31L217.86 668.29L219.37 668.26L220.88 668.23L222.39 668.21L223.89 668.18L225.4 668.15L226.91 668.12L228.42 668.09L229.92 668.06L231.43 668.04L232.94 668.01L234.45 667.98L235.95 667.95L237.46 667.92L238.97 667.89L240.48 667.86L241.98 667.83L243.49 667.8L245 667.76L246.51 667.73L248.01 667.7L249.52 667.67L251.03 667.64L252.54 667.61L254.04 667.57L255.55 667.54L257.06 667.51L258.57 667.47L260.07 667.44L261.58 667.41L263.09 667.37L264.6 667.34L266.1 667.3L267.61 667.27L269.12 667.23L270.62 667.2L272.13 667.16L273.64 667.13L275.15 667.09L276.65 667.05L278.16 667.02L279.67 666.98L281.18 666.94L282.68 666.91L284.19 666.87L285.7 666.83L287.21 666.79L288.71 666.75L290.22 666.71L291.73 666.68L293.23 666.64L294.74 666.6L296.25 666.56L297.76 666.52L299.26 666.47L300.77 666.43L302.28 666.39L303.78 666.35L305.29 666.31L306.8 666.27L308.31 666.22L309.81 666.18L311.32 666.14L312.83 666.1L314.33 666.05L315.84 666.01L317.35 665.96L318.86 665.92L320.36 665.87L321.87 665.83L323.38 665.78L324.88 665.74L326.39 665.69L327.9 665.65L329.41 665.6L330.91 665.55L332.42 665.5L333.93 665.46L335.43 665.41L336.94 665.36L338.45 665.31L339.95 665.26L341.46 665.21L342.97 665.16L344.47 665.11L345.98 665.06L347.49 665.01L349 664.96L350.5 664.91L352.01 664.86L353.52 664.8L355.02 664.75L356.53 664.7L358.04 664.65L359.54 664.59L361.05 664.54L362.56 664.48L364.06 664.43L365.57 664.38L367.08 664.32L368.58 664.26L370.09 664.21L371.6 664.15L373.1 664.1L374.61 664.04L376.12 663.98L377.62 663.92L379.13 663.86L380.64 663.81L382.14 663.75L383.65 663.69L385.15 663.63L386.66 663.57L388.17 663.51L389.67 663.45L391.18 663.39L392.69 663.32L394.19 663.26L395.7 663.2L397.21 663.14L398.71 663.07L400.22 663.01L401.73 662.95L403.23 662.88L404.74 662.82L406.24 662.75L407.75 662.69L409.26 662.62L410.76 662.56L412.27 662.49L413.77 662.42L415.28 662.35L416.79 662.29L418.29 662.22L419.8 662.15L421.31 662.08L422.81 662.01L424.32 661.94L425.82 661.87L427.33 661.8L428.84 661.73L430.34 661.66L431.85 661.59L433.35 661.51L434.86 661.44L436.36 661.37L437.87 661.29L439.38 661.22L440.88 661.14L442.39 661.07L443.89 660.99L445.4 660.92L446.91 660.84L448.41 660.77L449.92 660.69L451.42 660.61L452.93 660.53L454.43 660.45L455.94 660.38L457.44 660.3L458.95 660.22L460.46 660.14L461.96 660.06L463.47 659.97L464.97 659.89L466.48 659.81L467.98 659.73L469.49 659.65L470.99 659.56L472.5 659.48L474 659.39L475.51 659.31L477.01 659.22L478.52 659.14L480.03 659.05L481.53 658.97L483.04 658.88L484.54 658.79L486.05 658.7L487.55 658.62L489.06 658.53L490.56 658.44L492.07 658.35L493.57 658.26L495.08 658.17L496.58 658.07L498.09 657.98L499.59 657.89L501.1 657.8L502.6 657.7" fill="none" stroke="#0000ff" stroke-width="4.1" stroke-linecap="round" stroke-linejoin="round" stroke-dasharray="17.75 24.8 18.2 24.2 18.2 24.2 18.2 24.21 18.21 24.21 18.21 24.21 18.21 24.22 18.22 24.23 18.22 24.24 16.08 5000" stroke-dashoffset="-0" clip-path="url(#clipc)"/>
<path d="M104.8 464.3L106.3 464.51L107.79 464.71L109.29 464.92L110.78 465.13L112.28 465.34L113.78 465.54L115.27 465.75L116.77 465.96L118.26 466.17L119.76 466.37L121.25 466.58L122.75 466.79L124.25 467L125.74 467.21L127.24 467.41L128.73 467.62L130.23 467.83L131.72 468.04L133.22 468.25L134.72 468.45L136.21 468.66L137.71 468.87L139.2 469.08L140.7 469.29L142.19 469.5L143.69 469.7L145.19 469.91L146.68 470.12L148.18 470.33L149.67 470.54L151.17 470.75L152.66 470.96L154.16 471.17L155.66 471.38L157.15 471.58L158.65 471.79L160.14 472L161.64 472.21L163.13 472.42L164.63 472.63L166.12 472.84L167.62 473.05L169.12 473.26L170.61 473.47L172.11 473.68L173.6 473.89L175.1 474.1L176.59 474.31L178.09 474.52L179.58 474.73L181.08 474.94L182.58 475.15L184.07 475.36L185.57 475.57L187.06 475.78L188.56 475.99L190.05 476.2L191.55 476.41L193.04 476.62L194.54 476.83L196.03 477.04L197.53 477.25L199.03 477.46L200.52 477.67L202.02 477.88L203.51 478.09L205.01 478.31L206.5 478.52L208 478.73L209.49 478.94L210.99 479.15L212.48 479.36L213.98 479.57L215.47 479.78L216.97 480L218.46 480.21L219.96 480.42L221.46 480.63L222.95 480.84L224.45 481.05L225.94 481.27L227.44 481.48L228.93 481.69L230.43 481.9L231.92 482.11L233.42 482.33L234.91 482.54L236.41 482.75L237.9 482.96L239.4 483.18L240.89 483.39L242.39 483.6L243.88 483.81L245.38 484.03L246.87 484.24L248.37 484.45L249.86 484.67L251.36 484.88L252.85 485.09L254.35 485.31L255.84 485.52L257.34 485.73L258.83 485.95L260.33 486.16L261.82 486.37L263.32 486.59L264.81 486.8L266.31 487.01L267.8 487.23L269.3 487.44L270.79 487.66L272.29 487.87L273.78 488.09L275.28 488.3L276.77 488.51L278.27 488.73L279.76 488.94L281.26 489.16L282.75 489.37L284.25 489.59L285.74 489.8L287.24 490.02L288.73 490.23L290.23 490.45L291.72 490.66L293.22 490.88L294.71 491.09L296.2 491.31L297.7 491.52L299.19 491.74L300.69 491.95L302.18 492.17L303.68 492.39L305.17 492.6L306.67 492.82L308.16 493.03L309.66 493.25L311.15 493.47L312.65 493.68L314.14 493.9L315.64 494.12L317.13 494.33L318.62 494.55L320.12 494.77L321.61 494.98L323.11 495.2L324.6 495.42L326.1 495.63L327.59 495.85L329.09 496.07L330.58 496.28L332.07 496.5L333.57 496.72L335.06 496.94L336.56 497.15L338.05 497.37L339.55 497.59L341.04 497.81L342.54 498.03L344.03 498.24L345.52 498.46L347.02 498.68L348.51 498.9L350.01 499.12L351.5 499.34L353 499.55L354.49 499.77L355.98 499.99L357.48 500.21L358.97 500.43L360.47 500.65L361.96 500.87L363.45 501.09L364.95 501.31L366.44 501.53L367.94 501.74L369.43 501.96L370.93 502.18L372.42 502.4L373.91 502.62L375.41 502.84L376.9 503.06L378.4 503.28L379.89 503.5L381.38 503.72L382.88 503.94L384.37 504.16L385.87 504.39L387.36 504.61L388.85 504.83L390.35 505.05L391.84 505.27L393.34 505.49L394.83 505.71L396.32 505.93L397.82 506.15L399.31 506.37L400.8 506.6L402.3 506.82L403.79 507.04L405.29 507.26L406.78 507.48L408.27 507.71L409.77 507.93L411.26 508.15L412.75 508.37L414.25 508.59L415.74 508.82L417.24 509.04L418.73 509.26L420.22 509.48L421.72 509.71L423.21 509.93L424.7 510.15L426.2 510.38L427.69 510.6L429.18 510.82L430.68 511.05L432.17 511.27L433.67 511.49L435.16 511.72L436.65 511.94L438.15 512.17L439.64 512.39L441.13 512.61L442.63 512.84L444.12 513.06L445.61 513.29L447.11 513.51L448.6 513.74L450.09 513.96L451.59 514.19L453.08 514.41L454.57 514.64L456.07 514.86L457.56 515.09L459.05 515.31L460.55 515.54L462.04 515.76L463.53 515.99L465.03 516.22L466.52 516.44L468.01 516.67L469.5 516.89L471 517.12L472.49 517.35L473.98 517.57L475.48 517.8L476.97 518.03L478.46 518.25L479.96 518.48L481.45 518.71L482.94 518.93L484.44 519.16L485.93 519.39L487.42 519.62L488.91 519.84L490.41 520.07L491.9 520.3" fill="none" stroke="#ff0080" stroke-width="4.4" stroke-linecap="round" stroke-linejoin="round" clip-path="url(#clipc)"/>
<path d="M491.9 520.3L493.94 519.99L495.98 519.67L498.02 519.36L500.06 519.05L502.1 518.73L504.14 518.42L506.18 518.11L508.22 517.79L510.26 517.48L512.3 517.17L514.34 516.85L516.38 516.54L518.42 516.23L520.46 515.91L522.5 515.6" fill="none" stroke="#ff0080" stroke-width="4.4" stroke-linecap="round" stroke-linejoin="round" clip-path="url(#clipc)"/>
<path d="M104.8 576.2L106.3 575.99L107.79 575.78L109.29 575.57L110.78 575.36L112.28 575.15L113.77 574.94L115.27 574.73L116.76 574.52L118.26 574.31L119.75 574.1L121.25 573.89L122.74 573.68L124.24 573.47L125.73 573.25L127.23 573.04L128.73 572.83L130.22 572.62L131.72 572.41L133.21 572.2L134.71 571.99L136.2 571.78L137.7 571.57L139.19 571.36L140.69 571.15L142.18 570.94L143.68 570.73L145.17 570.52L146.67 570.31L148.16 570.1L149.66 569.89L151.15 569.68L152.65 569.47L154.15 569.26L155.64 569.05L157.14 568.84L158.63 568.63L160.13 568.42L161.62 568.21L163.12 568L164.61 567.79L166.11 567.57L167.6 567.36L169.1 567.15L170.59 566.94L172.09 566.73L173.58 566.52L175.08 566.31L176.58 566.1L178.07 565.89L179.57 565.68L181.06 565.47L182.56 565.26L184.05 565.05L185.55 564.84L187.04 564.63L188.54 564.42L190.03 564.21L191.53 563.99L193.02 563.78L194.52 563.57L196.01 563.36L197.51 563.15L199 562.94L200.5 562.73L201.99 562.52L203.49 562.31L204.99 562.1L206.48 561.89L207.98 561.67L209.47 561.46L210.97 561.25L212.46 561.04L213.96 560.83L215.45 560.62L216.95 560.41L218.44 560.2L219.94 559.98L221.43 559.77L222.93 559.56L224.42 559.35L225.92 559.14L227.41 558.93L228.91 558.72L230.4 558.5L231.9 558.29L233.39 558.08L234.89 557.87L236.38 557.66L237.88 557.45L239.37 557.24L240.87 557.02L242.36 556.81L243.86 556.6L245.36 556.39L246.85 556.18L248.35 555.96L249.84 555.75L251.34 555.54L252.83 555.33L254.33 555.12L255.82 554.9L257.32 554.69L258.81 554.48L260.31 554.27L261.8 554.05L263.3 553.84L264.79 553.63L266.29 553.42L267.78 553.2L269.28 552.99L270.77 552.78L272.27 552.56L273.76 552.35L275.26 552.14L276.75 551.93L278.25 551.71L279.74 551.5L281.24 551.29L282.73 551.07L284.23 550.86L285.72 550.65L287.22 550.43L288.71 550.22L290.21 550.01L291.7 549.79L293.19 549.58L294.69 549.37L296.18 549.15L297.68 548.94L299.17 548.73L300.67 548.51L302.16 548.3L303.66 548.08L305.15 547.87L306.65 547.65L308.14 547.44L309.64 547.23L311.13 547.01L312.63 546.8L314.12 546.58L315.62 546.37L317.11 546.15L318.61 545.94L320.1 545.72L321.6 545.51L323.09 545.29L324.58 545.08L326.08 544.86L327.57 544.65L329.07 544.43L330.56 544.22L332.06 544L333.55 543.79L335.05 543.57L336.54 543.36L338.04 543.14L339.53 542.93L341.03 542.71L342.52 542.49L344.01 542.28L345.51 542.06L347 541.85L348.5 541.63L349.99 541.41L351.49 541.2L352.98 540.98L354.48 540.76L355.97 540.55L357.46 540.33L358.96 540.11L360.45 539.9L361.95 539.68L363.44 539.46L364.94 539.24L366.43 539.03L367.93 538.81L369.42 538.59L370.91 538.38L372.41 538.16L373.9 537.94L375.4 537.72L376.89 537.5L378.39 537.29L379.88 537.07L381.37 536.85L382.87 536.63L384.36 536.41L385.86 536.19L387.35 535.98L388.84 535.76L390.34 535.54L391.83 535.32L393.33 535.1L394.82 534.88L396.31 534.66L397.81 534.44L399.3 534.22L400.8 534L402.29 533.78L403.78 533.57L405.28 533.35L406.77 533.13L408.27 532.91L409.76 532.69L411.25 532.47L412.75 532.24L414.24 532.02L415.74 531.8L417.23 531.58L418.72 531.36L420.22 531.14L421.71 530.92L423.21 530.7L424.7 530.48L426.19 530.26L427.69 530.04L429.18 529.81L430.67 529.59L432.17 529.37L433.66 529.15L435.15 528.93L436.65 528.7L438.14 528.48L439.64 528.26L441.13 528.04L442.62 527.82L444.12 527.59L445.61 527.37L447.1 527.15L448.6 526.92L450.09 526.7L451.58 526.48L453.08 526.25L454.57 526.03L456.06 525.81L457.56 525.58L459.05 525.36L460.54 525.13L462.04 524.91L463.53 524.69L465.02 524.46L466.52 524.24L468.01 524.01L469.5 523.79L471 523.56L472.49 523.34L473.98 523.11L475.48 522.89L476.97 522.66L478.46 522.44L479.96 522.21L481.45 521.98L482.94 521.76L484.44 521.53L485.93 521.31L487.42 521.08L488.91 520.85L490.41 520.63L491.9 520.4" fill="none" stroke="#000000" stroke-width="4.4" stroke-linecap="round" stroke-linejoin="round" clip-path="url(#clipc)"/>
<path d="M491.9 520.4L493.94 520.72L495.98 521.04L498.02 521.36L500.06 521.68L502.1 522L504.14 522.32L506.18 522.64L508.22 522.96L510.26 523.28L512.3 523.6L514.34 523.92L516.38 524.24L518.42 524.56L520.46 524.88L522.5 525.2" fill="none" stroke="#000000" stroke-width="4.4" stroke-linecap="round" stroke-linejoin="round" clip-path="url(#clipc)"/>
<path d="M601 370.8L602.49 371.08L603.97 371.36L605.46 371.64L606.95 371.91L608.43 372.19L609.92 372.47L611.41 372.75L612.9 373.03L614.38 373.31L615.87 373.59L617.36 373.87L618.84 374.15L620.33 374.43L621.82 374.71L623.3 374.99L624.79 375.27L626.28 375.55L627.76 375.83L629.25 376.12L630.74 376.4L632.22 376.68L633.71 376.97L635.2 377.25L636.68 377.53L638.17 377.82L639.65 378.1L641.14 378.39L642.63 378.68L644.11 378.96L645.6 379.25L647.09 379.54L648.57 379.82L650.06 380.11L651.54 380.4L653.03 380.69L654.51 380.98L656 381.27L657.48 381.56L658.97 381.85L660.46 382.14L661.94 382.43L663.43 382.72L664.91 383.02L666.4 383.31L667.88 383.61L669.37 383.9L670.85 384.19L672.33 384.49L673.82 384.79L675.3 385.08L676.79 385.38L678.27 385.68L679.76 385.98L681.24 386.28L682.72 386.58L684.21 386.88L685.69 387.18L687.17 387.48L688.66 387.78L690.14 388.08L691.62 388.39L693.1 388.69L694.59 389L696.07 389.3L697.55 389.61L699.03 389.92L700.52 390.22L702 390.53L703.48 390.84L704.96 391.15L706.44 391.46L707.92 391.77L709.4 392.08L710.89 392.4L712.37 392.71L713.85 393.03L715.33 393.34L716.81 393.66L718.29 393.97L719.77 394.29L721.25 394.61L722.73 394.93L724.21 395.25L725.69 395.57L727.16 395.89L728.64 396.21L730.12 396.53L731.6 396.86L733.08 397.18L734.56 397.51L736.03 397.84L737.51 398.16L738.99 398.49L740.47 398.82L741.94 399.15L743.42 399.48L744.89 399.81L746.37 400.15L747.85 400.48L749.32 400.82L750.8 401.15L752.27 401.49L753.75 401.83L755.22 402.16L756.7 402.5L758.17 402.84L759.65 403.19L761.12 403.53L762.59 403.87L764.07 404.22L765.54 404.56L767.01 404.91L768.49 405.26L769.96 405.6L771.43 405.95L772.9 406.31L774.37 406.66L775.84 407.01L777.32 407.36L778.79 407.72L780.26 408.08L781.73 408.43L783.2 408.79L784.67 409.15L786.14 409.51L787.6 409.87L789.07 410.24L790.54 410.6L792.01 410.97L793.48 411.33L794.94 411.7L796.41 412.07L797.88 412.44L799.35 412.81L800.81 413.18L802.28 413.55L803.74 413.93L805.21 414.3L806.67 414.68L808.14 415.06L809.6 415.44L811.07 415.82L812.53 416.2L813.99 416.59L815.46 416.97L816.92 417.36L818.38 417.74L819.84 418.13L821.31 418.52L822.77 418.91L824.23 419.3L825.69 419.7L827.15 420.09L828.61 420.49L830.07 420.89L831.53 421.29L832.99 421.69L834.44 422.09L835.9 422.49L837.36 422.9L838.82 423.3L840.28 423.71L841.73 424.12L843.19 424.53L844.64 424.94L846.1 425.35L847.55 425.77L849.01 426.18L850.46 426.6L851.92 427.02L853.37 427.44L854.82 427.86L856.28 428.28L857.73 428.71L859.18 429.13L860.63 429.56L862.08 429.99L863.53 430.42L864.99 430.85L866.43 431.29L867.88 431.72L869.33 432.16L870.78 432.6L872.23 433.04L873.68 433.48L875.13 433.92L876.57 434.36L878.02 434.81L879.47 435.26L880.91 435.71L882.36 436.16L883.8 436.61L885.24 437.06L886.69 437.52L888.13 437.98L889.57 438.44L891.02 438.9L892.46 439.36L893.9 439.82L895.34 440.29L896.78 440.75L898.22 441.22L899.66 441.69L901.1 442.17L902.54 442.64L903.98 443.12L905.42 443.59L906.85 444.07L908.29 444.55L909.73 445.04L911.16 445.52L912.6 446.01L914.14 445.91L915.68 445.82L917.22 445.71L918.76 445.61L920.3 445.49L921.84 445.38L923.37 445.26L924.91 445.13L926.45 445L927.98 444.87L929.52 444.73L931.06 444.59L932.59 444.44L934.13 444.3L935.66 444.14L937.2 443.99L938.73 443.83L940.27 443.67L941.8 443.51L943.34 443.35L944.87 443.19L946.4 443.02L947.94 442.85L949.47 442.68L951 442.51L952.54 442.34L954.07 442.16L955.6 441.99L957.14 441.82L958.67 441.64L960.21 441.47L961.74 441.3L963.27 441.12L964.81 440.95L966.34 440.78L967.87 440.61L969.41 440.44L970.94 440.27L972.48 440.11L974.01 439.94L975.55 439.78L977.08 439.62L978.62 439.46L980.15 439.3L981.69 439.15L983.22 439L984.76 438.85L986.29 438.71L987.83 438.57L989.37 438.43L990.91 438.3L992.44 438.17L993.98 438.05L995.52 437.93L997.06 437.81L998.6 437.7" fill="none" stroke="#00ff00" stroke-width="4.1" stroke-linecap="round" stroke-linejoin="round" stroke-dasharray="12.56 19.54 12.63 22.62 15.5 16.43 15.94 18.52 15.57 19.81 13.78 12.56 15.68 21.72 13.38 17.48 13.57 22.31 12.2 19.69 14.36 21.33 15.09 8.14 14.76 5000" stroke-dashoffset="-0" clip-path="url(#clipd)"/>
<path d="M601 670L602.49 669.72L603.97 669.44L605.46 669.16L606.95 668.89L608.43 668.61L609.92 668.33L611.41 668.05L612.9 667.77L614.38 667.49L615.87 667.21L617.36 666.93L618.84 666.65L620.33 666.37L621.82 666.09L623.3 665.81L624.79 665.53L626.28 665.25L627.76 664.97L629.25 664.68L630.74 664.4L632.22 664.12L633.71 663.83L635.2 663.55L636.68 663.27L638.17 662.98L639.65 662.7L641.14 662.41L642.63 662.12L644.11 661.84L645.6 661.55L647.09 661.26L648.57 660.98L650.06 660.69L651.54 660.4L653.03 660.11L654.51 659.82L656 659.53L657.48 659.24L658.97 658.95L660.46 658.66L661.94 658.37L663.43 658.08L664.91 657.78L666.4 657.49L667.88 657.19L669.37 656.9L670.85 656.61L672.33 656.31L673.82 656.01L675.3 655.72L676.79 655.42L678.27 655.12L679.76 654.82L681.24 654.52L682.72 654.22L684.21 653.92L685.69 653.62L687.17 653.32L688.66 653.02L690.14 652.72L691.62 652.41L693.1 652.11L694.59 651.8L696.07 651.5L697.55 651.19L699.03 650.88L700.52 650.58L702 650.27L703.48 649.96L704.96 649.65L706.44 649.34L707.92 649.03L709.4 648.72L710.89 648.4L712.37 648.09L713.85 647.77L715.33 647.46L716.81 647.14L718.29 646.83L719.77 646.51L721.25 646.19L722.73 645.87L724.21 645.55L725.69 645.23L727.16 644.91L728.64 644.59L730.12 644.27L731.6 643.94L733.08 643.62L734.56 643.29L736.03 642.96L737.51 642.64L738.99 642.31L740.47 641.98L741.94 641.65L743.42 641.32L744.89 640.99L746.37 640.65L747.85 640.32L749.32 639.98L750.8 639.65L752.27 639.31L753.75 638.97L755.22 638.64L756.7 638.3L758.17 637.96L759.65 637.61L761.12 637.27L762.59 636.93L764.07 636.58L765.54 636.24L767.01 635.89L768.49 635.54L769.96 635.2L771.43 634.85L772.9 634.49L774.37 634.14L775.84 633.79L777.32 633.44L778.79 633.08L780.26 632.72L781.73 632.37L783.2 632.01L784.67 631.65L786.14 631.29L787.6 630.93L789.07 630.56L790.54 630.2L792.01 629.83L793.48 629.47L794.94 629.1L796.41 628.73L797.88 628.36L799.35 627.99L800.81 627.62L802.28 627.25L803.74 626.87L805.21 626.5L806.67 626.12L808.14 625.74L809.6 625.36L811.07 624.98L812.53 624.6L813.99 624.21L815.46 623.83L816.92 623.44L818.38 623.06L819.84 622.67L821.31 622.28L822.77 621.89L824.23 621.5L825.69 621.1L827.15 620.71L828.61 620.31L830.07 619.91L831.53 619.51L832.99 619.11L834.44 618.71L835.9 618.31L837.36 617.9L838.82 617.5L840.28 617.09L841.73 616.68L843.19 616.27L844.64 615.86L846.1 615.45L847.55 615.03L849.01 614.62L850.46 614.2L851.92 613.78L853.37 613.36L854.82 612.94L856.28 612.52L857.73 612.09L859.18 611.67L860.63 611.24L862.08 610.81L863.53 610.38L864.99 609.95L866.43 609.51L867.88 609.08L869.33 608.64L870.78 608.2L872.23 607.76L873.68 607.32L875.13 606.88L876.57 606.44L878.02 605.99L879.47 605.54L880.91 605.09L882.36 604.64L883.8 604.19L885.24 603.74L886.69 603.28L888.13 602.82L889.57 602.36L891.02 601.9L892.46 601.44L893.9 600.98L895.34 600.51L896.78 600.05L898.22 599.58L899.66 599.11L901.1 598.63L902.54 598.16L903.98 597.68L905.42 597.21L906.85 596.73L908.29 596.25L909.73 595.76L911.16 595.28L912.6 594.79L914.14 594.89L915.68 594.98L917.22 595.09L918.76 595.19L920.3 595.31L921.84 595.42L923.37 595.54L924.91 595.67L926.45 595.8L927.98 595.93L929.52 596.07L931.06 596.21L932.59 596.36L934.13 596.5L935.66 596.66L937.2 596.81L938.73 596.97L940.27 597.13L941.8 597.29L943.34 597.45L944.87 597.61L946.4 597.78L947.94 597.95L949.47 598.12L951 598.29L952.54 598.46L954.07 598.64L955.6 598.81L957.14 598.98L958.67 599.16L960.21 599.33L961.74 599.5L963.27 599.68L964.81 599.85L966.34 600.02L967.87 600.19L969.41 600.36L970.94 600.53L972.48 600.69L974.01 600.86L975.55 601.02L977.08 601.18L978.62 601.34L980.15 601.5L981.69 601.65L983.22 601.8L984.76 601.95L986.29 602.09L987.83 602.23L989.37 602.37L990.91 602.5L992.44 602.63L993.98 602.75L995.52 602.87L997.06 602.99L998.6 603.1" fill="none" stroke="#0000ff" stroke-width="4.1" stroke-linecap="round" stroke-linejoin="round" stroke-dasharray="12.56 19.54 12.63 22.62 15.5 16.43 15.94 18.52 15.57 19.81 13.78 12.56 15.68 21.72 13.38 17.48 13.57 22.31 12.2 19.69 14.36 21.33 15.09 8.14 14.76 5000" stroke-dashoffset="-0" clip-path="url(#clipd)"/>
<path d="M600.6 516.41L601.04 515.79L601.59 515.11L602.01 514.62L602.48 514.11L603 513.58L603.45 513.14L604.17 512.47L604.83 511.88L605.54 511.28L606.3 510.67L607.1 510.05L607.72 509.58L608.39 509.09L609.15 508.55L609.79 508.11L610.57 507.58L611.29 507.11L611.82 506.78L612.35 506.44L612.9 506.1L613.42 505.78L614.04 505.42L614.62 505.07L615.22 504.73L615.83 504.39L616.45 504.04L617.08 503.69L617.7 503.36L618.38 503L619.04 502.65L619.72 502.3L620.41 501.95L621.12 501.6L621.83 501.25L622.56 500.91L623.29 500.56L624.04 500.21L624.81 499.86L625.58 499.51L626.24 499.21L627.16 498.81L627.97 498.46L628.79 498.11L629.63 497.76L630.47 497.41L631.33 497.06L631.94 496.81L633.08 496.37L633.97 496.02L634.79 495.7L635.79 495.33L636.72 494.98L637.64 494.64L638.61 494.29L639.57 493.95L640.49 493.62L641.53 493.26L642.53 492.92L643.34 492.64L644.56 492.24L645.6 491.9L646.19 491.7L647.61 491.25L648.77 490.88L649.85 490.54L650.46 490.35L651.89 489.92L653.17 489.53L654.29 489.2L655.44 488.86L656.16 488.65L657.59 488.24L658.93 487.87L660.12 487.53L661.32 487.2L662.53 486.87L663.28 486.67L664.71 486.29L666.13 485.91L667.49 485.56L668.76 485.23L670.05 484.9L671.34 484.57L672.65 484.25L673.26 484.1L673.97 483.92L674.68 483.75L675.29 483.6L676.11 483.4L677.53 483.06L678.96 482.72L680.38 482.38L681.8 482.05L683.23 481.72L684.65 481.39L686.08 481.07L687.5 480.75L688.93 480.43L690.35 480.12L691.78 479.8L693.2 479.49L694.63 479.19L696.05 478.88L696.66 478.75L697.48 478.58L698.18 478.43L698.9 478.28L699.72 478.11L700.33 477.98L701.26 477.78L702.81 477.46L704.38 477.14L705.96 476.82L707.45 476.52L708.87 476.23L710.3 475.95L711.72 475.66L712.39 475.53L713.15 475.38L714.03 475.21L715.68 474.89L717.34 474.56L718.85 474.27L720.27 474L721.7 473.73L722.39 473.59L723.12 473.46L724.1 473.27L725.82 472.94L727.39 472.65L728.82 472.38L730.24 472.12L731.06 471.97L731.67 471.86L732.83 471.64L734.52 471.33L735.94 471.07L737.37 470.82L738.2 470.66L738.79 470.56L740.01 470.34L741.64 470.05L743.07 469.79L743.68 469.68L744.49 469.54L745.53 469.35L747.34 469.03L748.76 468.78L750.19 468.53L751.15 468.36L753.04 468.04L754.46 467.79L755.89 467.54L756.88 467.37L758.74 467.05L760.16 466.81L760.76 466.71L761.59 466.57L762.72 466.38L764.44 466.09L765.86 465.85L766.67 465.71L767.28 465.61L768.66 465.37L770.13 465.13L771.56 464.89L772.68 464.71L774.41 464.42L775.83 464.19L776.75 464.04L778.68 463.72L780.11 463.49L780.87 463.36L781.53 463.26L782.94 463.03L784.38 462.8L785.03 462.69L785.8 462.57L787.13 462.35L788.65 462.11L790.08 461.88L791.36 461.68L792.93 461.43L794.35 461.21L795.64 461.01L797.2 460.76L797.8 460.67L798.63 460.54L799.97 460.33L801.48 460.1L802.16 459.99L802.9 459.88L804.33 459.66L805.75 459.44L806.56 459.32L807.17 459.22L808.6 459.01L810.02 458.79L811 458.65L812.87 458.36L814.3 458.15L815.5 457.97L817.15 457.73L817.76 457.64L818.57 457.52L820 457.31L821.42 457.1L822.33 456.97L824.27 456.69L825.7 456.48L826.94 456.3L828.54 456.07L829.26 455.97L829.97 455.87L831.39 455.66L832.82 455.46L833.95 455.31L835.67 455.06L836.31 454.98L837.09 454.87L838.52 454.67L839.94 454.47L841.06 454.32L842.79 454.08L843.46 453.99L844.22 453.89L845.64 453.7L847.07 453.51L848.28 453.34L849.91 453.13L850.71 453.02L851.34 452.94L852.76 452.75L854.19 452.57L855.61 452.38L857.04 452.2L858.08 452.07L859.89 451.84L860.55 451.75L861.31 451.66L862.74 451.48L864.16 451.3L865.55 451.13L867.01 450.95L868.06 450.82L869.86 450.6L870.59 450.52L871.28 450.43L872.71 450.26L874.13 450.1L875.56 449.93L876.98 449.76L878.23 449.62L879.83 449.44L880.8 449.32L882.68 449.11L883.39 449.03L884.11 448.95L885.53 448.8L886.96 448.64L888.38 448.49L889.8 448.33L891.21 448.18L892.65 448.03L893.85 447.91L895.5 447.74L896.49 447.64L898.35 447.45L899.14 447.37L899.78 447.3L901.2 447.16L901.81 447.1L902.63 447.02L904.05 446.89L905.48 446.75L906.9 446.62L908.33 446.48L909.75 446.35L911.17 446.22L912.6 446.1" fill="none" stroke="#ff0080" stroke-width="4.4" stroke-linecap="round" stroke-linejoin="round" clip-path="url(#clipd)"/>
<path d="M912.6 445.6L913.42 445.98L914.24 446.35L914.85 446.62L915.75 447.03L916.64 447.44L917.49 447.83L918.29 448.19L918.89 448.47L919.79 448.88L920.67 449.29L921.46 449.65L922.04 449.91L922.93 450.32L923.81 450.73L924.58 451.08L925.18 451.36L926.08 451.77L926.89 452.15L927.65 452.5L928.33 452.82L929.16 453.2L929.91 453.55L930.57 453.86L931.4 454.25L932.14 454.6L932.82 454.91L933.62 455.29L934.17 455.55L935.07 455.97L935.79 456.31L936.41 456.61L937.23 456.99L937.95 457.33L938.65 457.67L939.36 458.01L940.01 458.32L940.76 458.68L941.36 458.96L942.15 459.34L942.7 459.61L943.53 460.01L944.21 460.34L944.89 460.67L945.56 461L946.24 461.32L946.9 461.65L947.57 461.98L948.23 462.3L948.89 462.62L949.44 462.9L950.2 463.27L950.79 463.57L951.49 463.91L952.13 464.23L952.77 464.55L953.4 464.87L954.03 465.19L954.66 465.51L955.28 465.82L955.91 466.14L956.52 466.46L957.08 466.74L957.75 467.08L958.35 467.4L958.96 467.71L959.56 468.02L960.15 468.33L960.75 468.64L961.34 468.95L961.92 469.26L962.47 469.55L963.09 469.88L963.66 470.18L964.24 470.49L964.8 470.8L965.37 471.1L965.93 471.41L966.49 471.71L967.05 472.01L967.6 472.32L968.15 472.62L968.69 472.92L969.24 473.22L969.77 473.52L970.31 473.82L970.84 474.12L971.37 474.42L971.89 474.72L972.41 475.02L973.26 475.51L973.96 475.91L974.61 476.29L975.47 476.8L976.4 477.36L976.95 477.69L977.75 478.17L978.4 478.57L979.1 479L979.82 479.45L980.45 479.84L981.21 480.32L981.79 480.7L982.57 481.2L983.14 481.57L983.9 482.07L984.49 482.46L985.19 482.93L985.84 483.37L986.46 483.8L987.19 484.3L987.69 484.66L988.5 485.24L989.29 485.81L989.88 486.25L990.46 486.67L991.21 487.25L991.96 487.82L992.58 488.3L993.05 488.68L993.76 489.25L994.38 489.75L995.14 490.39L995.72 490.89L996.46 491.54L997.07 492.08L997.52 492.49L997.97 492.9L998.42 493.32L998.87 493.75L999.32 494.19L999.77 494.63L1000.22 495.09L1000.67 495.55L1001.12 496.02L1001.56 496.5L1002 496.99L1002.46 497.51L1002.91 498.02L1003.36 498.56L1003.81 499.11L1004.2 499.59L1004.65 500.17L1005.08 500.76L1005.51 501.34L1005.91 501.93L1006.31 502.51L1006.69 503.1L1007.06 503.69L1007.4 504.27L1007.75 504.87L1008.08 505.47L1008.39 506.07L1008.69 506.67L1008.97 507.27L1009.25 507.87L1009.5 508.47L1009.75 509.08L1009.98 509.69L1010.2 510.3L1010.4 510.92L1010.59 511.53L1010.76 512.15L1010.92 512.77L1011 513.08" fill="none" stroke="#ff0080" stroke-width="4.4" stroke-linecap="round" stroke-linejoin="round" clip-path="url(#clipd)"/>
<path d="M600.6 524.09L601.04 524.71L601.59 525.39L602.01 525.88L602.48 526.39L603 526.92L603.45 527.36L604.17 528.03L604.83 528.62L605.54 529.22L606.3 529.83L607.1 530.45L607.72 530.92L608.39 531.41L609.15 531.95L609.79 532.39L610.57 532.92L611.29 533.39L611.82 533.72L612.35 534.06L612.9 534.4L613.42 534.72L614.04 535.08L614.62 535.43L615.22 535.77L615.83 536.11L616.45 536.46L617.08 536.81L617.7 537.14L618.38 537.5L619.04 537.85L619.72 538.2L620.41 538.55L621.12 538.9L621.83 539.25L622.56 539.59L623.29 539.94L624.04 540.29L624.81 540.64L625.58 540.99L626.24 541.29L627.16 541.69L627.97 542.04L628.79 542.39L629.63 542.74L630.47 543.09L631.33 543.44L631.94 543.69L633.08 544.13L633.97 544.48L634.79 544.8L635.79 545.17L636.72 545.52L637.64 545.86L638.61 546.21L639.57 546.55L640.49 546.88L641.53 547.24L642.53 547.58L643.34 547.86L644.56 548.26L645.6 548.6L646.19 548.8L647.61 549.25L648.77 549.62L649.85 549.96L650.46 550.15L651.89 550.58L653.17 550.97L654.29 551.3L655.44 551.64L656.16 551.85L657.59 552.26L658.93 552.63L660.12 552.97L661.32 553.3L662.53 553.63L663.28 553.83L664.71 554.21L666.13 554.59L667.49 554.94L668.76 555.27L670.05 555.6L671.34 555.93L672.65 556.25L673.26 556.4L673.97 556.58L674.68 556.75L675.29 556.9L676.11 557.1L677.53 557.44L678.96 557.78L680.38 558.12L681.8 558.45L683.23 558.78L684.65 559.11L686.08 559.43L687.5 559.75L688.93 560.07L690.35 560.38L691.78 560.7L693.2 561.01L694.63 561.31L696.05 561.62L696.66 561.75L697.48 561.92L698.18 562.07L698.9 562.22L699.72 562.39L700.33 562.52L701.26 562.72L702.81 563.04L704.38 563.36L705.96 563.68L707.45 563.98L708.87 564.27L710.3 564.55L711.72 564.84L712.39 564.97L713.15 565.12L714.03 565.29L715.68 565.61L717.34 565.94L718.85 566.23L720.27 566.5L721.7 566.77L722.39 566.91L723.12 567.04L724.1 567.23L725.82 567.56L727.39 567.85L728.82 568.12L730.24 568.38L731.06 568.53L731.67 568.64L732.83 568.86L734.52 569.17L735.94 569.43L737.37 569.68L738.2 569.84L738.79 569.94L740.01 570.16L741.64 570.45L743.07 570.71L743.68 570.82L744.49 570.96L745.53 571.15L747.34 571.47L748.76 571.72L750.19 571.97L751.15 572.14L753.04 572.46L754.46 572.71L755.89 572.96L756.88 573.13L758.74 573.45L760.16 573.69L760.76 573.79L761.59 573.93L762.72 574.12L764.44 574.41L765.86 574.65L766.67 574.79L767.28 574.89L768.66 575.13L770.13 575.37L771.56 575.61L772.68 575.79L774.41 576.08L775.83 576.31L776.75 576.46L778.68 576.78L780.11 577.01L780.87 577.14L781.53 577.24L782.94 577.47L784.38 577.7L785.03 577.81L785.8 577.93L787.13 578.15L788.65 578.39L790.08 578.62L791.36 578.82L792.93 579.07L794.35 579.29L795.64 579.49L797.2 579.74L797.8 579.83L798.63 579.96L799.97 580.17L801.48 580.4L802.16 580.51L802.9 580.62L804.33 580.84L805.75 581.06L806.56 581.18L807.17 581.28L808.6 581.49L810.02 581.71L811 581.85L812.87 582.14L814.3 582.35L815.5 582.53L817.15 582.77L817.76 582.86L818.57 582.98L820 583.19L821.42 583.4L822.33 583.53L824.27 583.81L825.7 584.02L826.94 584.2L828.54 584.43L829.26 584.53L829.97 584.63L831.39 584.84L832.82 585.04L833.95 585.19L835.67 585.44L836.31 585.52L837.09 585.63L838.52 585.83L839.94 586.03L841.06 586.18L842.79 586.42L843.46 586.51L844.22 586.61L845.64 586.8L847.07 586.99L848.28 587.16L849.91 587.37L850.71 587.48L851.34 587.56L852.76 587.75L854.19 587.93L855.61 588.12L857.04 588.3L858.08 588.43L859.89 588.66L860.55 588.75L861.31 588.84L862.74 589.02L864.16 589.2L865.55 589.37L867.01 589.55L868.06 589.68L869.86 589.9L870.59 589.98L871.28 590.07L872.71 590.24L874.13 590.4L875.56 590.57L876.98 590.74L878.23 590.88L879.83 591.06L880.8 591.18L882.68 591.39L883.39 591.47L884.11 591.55L885.53 591.7L886.96 591.86L888.38 592.01L889.8 592.17L891.21 592.32L892.65 592.47L893.85 592.59L895.5 592.76L896.49 592.86L898.35 593.05L899.14 593.13L899.78 593.2L901.2 593.34L901.81 593.4L902.63 593.48L904.05 593.61L905.48 593.75L906.9 593.88L908.33 594.02L909.75 594.15L911.17 594.28L912.6 594.4" fill="none" stroke="#000000" stroke-width="4.4" stroke-linecap="round" stroke-linejoin="round" clip-path="url(#clipd)"/>
<path d="M912.6 593.76L913.42 593.39L914.24 593.02L914.85 592.74L915.75 592.33L916.64 591.92L917.49 591.54L918.29 591.17L918.89 590.9L919.79 590.49L920.67 590.08L921.46 589.72L922.04 589.46L922.93 589.04L923.81 588.64L924.58 588.28L925.18 588.01L926.08 587.59L926.89 587.22L927.65 586.86L928.33 586.55L929.16 586.16L929.91 585.81L930.57 585.5L931.4 585.11L932.14 584.76L932.82 584.45L933.62 584.07L934.17 583.81L935.07 583.39L935.79 583.04L936.41 582.75L937.23 582.36L937.95 582.02L938.65 581.68L939.36 581.34L940.01 581.03L940.76 580.67L941.36 580.38L942.15 580L942.7 579.73L943.53 579.33L944.21 579L944.89 578.67L945.56 578.34L946.24 578.01L946.9 577.68L947.57 577.35L948.23 577.02L948.89 576.7L949.44 576.42L950.2 576.05L950.79 575.75L951.49 575.4L952.13 575.08L952.77 574.76L953.4 574.44L954.03 574.12L954.66 573.8L955.28 573.48L955.91 573.16L956.52 572.84L957.08 572.56L957.75 572.21L958.35 571.9L958.96 571.58L959.56 571.27L960.15 570.96L960.75 570.64L961.34 570.33L961.92 570.02L962.47 569.73L963.09 569.4L963.66 569.09L964.24 568.78L964.8 568.48L965.37 568.17L965.93 567.86L966.49 567.56L967.05 567.25L967.6 566.95L968.15 566.64L968.69 566.34L969.24 566.04L969.77 565.73L970.31 565.43L970.84 565.13L971.37 564.83L971.89 564.53L972.41 564.23L973.26 563.74L973.96 563.33L974.61 562.95L975.47 562.44L976.4 561.88L976.95 561.55L977.75 561.07L978.4 560.67L979.1 560.24L979.82 559.79L980.45 559.4L981.21 558.91L981.79 558.54L982.57 558.04L983.14 557.67L983.9 557.17L984.49 556.78L985.19 556.31L985.84 555.87L986.46 555.44L987.19 554.94L987.69 554.58L988.5 554.01L989.29 553.44L989.88 553.01L990.46 552.59L991.21 552.02L991.96 551.45L992.58 550.97L993.41 550.32L993.93 549.9L994.46 549.47L995.14 548.9L995.72 548.41L996.46 547.78L997.07 547.24L997.52 546.84L997.97 546.43L998.42 546.02L998.87 545.6L999.32 545.17L999.77 544.74L1000.22 544.29L1000.67 543.84L1001.12 543.38L1001.56 542.91L1002 542.44L1002.46 541.93L1002.91 541.43L1003.36 540.91L1003.81 540.38L1004.2 539.91L1004.65 539.34L1005.08 538.78L1005.51 538.22L1005.91 537.65L1006.31 537.09L1006.69 536.52L1007.06 535.96L1007.4 535.4L1007.75 534.82L1008.08 534.25L1008.39 533.69L1008.69 533.11L1008.97 532.54L1009.25 531.97L1009.5 531.4L1009.75 530.82L1009.98 530.25L1010.2 529.67L1010.4 529.09L1010.59 528.51L1010.76 527.93L1010.92 527.34L1011 527.05" fill="none" stroke="#000000" stroke-width="4.4" stroke-linecap="round" stroke-linejoin="round" clip-path="url(#clipd)"/>
<rect x="105" y="0.7" width="425.6" height="319.3" fill="none" stroke="#000" stroke-width="1.6"/>
<path d="M105 320 v5 M246.87 320 v5 M388.73 320 v5 M530.6 320 v5 M175.93 320 v2.8 M317.8 320 v2.8 M459.67 320 v2.8 M105 69.12 h-5 M105 160.35 h-5 M105 251.58 h-5 M105 23.51 h-2.8 M105 114.74 h-2.8 M105 205.96 h-2.8 M105 297.19 h-2.8" stroke="#000" stroke-width="1.6" fill="none"/>
<text x="105" y="354.2" text-anchor="middle" font-size="34">-1.0</text>
<text x="246.87" y="354.2" text-anchor="middle" font-size="34">-0.8</text>
<text x="388.73" y="354.2" text-anchor="middle" font-size="34">-0.6</text>
<text x="530.6" y="354.2" text-anchor="middle" font-size="34">-0.4</text>
<text x="96.7" y="79.22" text-anchor="end" font-size="34">0.2</text>
<text x="96.7" y="170.45" text-anchor="end" font-size="34">0.0</text>
<text x="96.7" y="261.68" text-anchor="end" font-size="34">-0.2</text>
<rect x="599.3" y="0.7" width="425.2" height="319" fill="none" stroke="#000" stroke-width="1.6"/>
<path d="M705.6 319.7 v5 M847.33 319.7 v5 M989.07 319.7 v5 M634.73 319.7 v2.8 M776.47 319.7 v2.8 M918.2 319.7 v2.8 M599.3 18.42 h-5 M599.3 160.2 h-5 M599.3 301.98 h-5 M599.3 89.31 h-2.8 M599.3 231.09 h-2.8" stroke="#000" stroke-width="1.6" fill="none"/>
<text x="705.6" y="353.9" text-anchor="middle" font-size="34">-0.4</text>
<text x="847.33" y="353.9" text-anchor="middle" font-size="34">-0.2</text>
<text x="989.07" y="353.9" text-anchor="middle" font-size="34">0.0</text>
<text x="591" y="28.52" text-anchor="end" font-size="34">0.2</text>
<text x="591" y="170.3" text-anchor="end" font-size="34">0.0</text>
<text x="591" y="312.08" text-anchor="end" font-size="34">-0.2</text>
<rect x="105" y="361.2" width="425.6" height="319" fill="none" stroke="#000" stroke-width="1.6"/>
<path d="M182.38 680.2 v5 M337.15 680.2 v5 M491.91 680.2 v5 M105 680.2 v2.8 M259.76 680.2 v2.8 M414.53 680.2 v2.8 M105 425 h-5 M105 520.7 h-5 M105 616.4 h-5 M105 377.15 h-2.8 M105 472.85 h-2.8 M105 568.55 h-2.8 M105 664.25 h-2.8" stroke="#000" stroke-width="1.6" fill="none"/>
<text x="182.38" y="714.4" text-anchor="middle" font-size="34">-0.4</text>
<text x="337.15" y="714.4" text-anchor="middle" font-size="34">-0.2</text>
<text x="491.91" y="714.4" text-anchor="middle" font-size="34">0.0</text>
<text x="96.7" y="435.1" text-anchor="end" font-size="34">0.3</text>
<text x="96.7" y="530.8" text-anchor="end" font-size="34">0.0</text>
<text x="96.7" y="626.5" text-anchor="end" font-size="34">-0.3</text>
<rect x="594.3" y="361.2" width="425.3" height="319" fill="none" stroke="#000" stroke-width="1.6"/>
<path d="M647.46 680.2 v5 M806.95 680.2 v5 M966.44 680.2 v5 M727.21 680.2 v2.8 M886.69 680.2 v2.8 M594.3 432.09 h-5 M594.3 520.7 h-5 M594.3 609.31 h-5 M594.3 387.78 h-2.8 M594.3 476.39 h-2.8 M594.3 565.01 h-2.8 M594.3 653.62 h-2.8" stroke="#000" stroke-width="1.6" fill="none"/>
<text x="647.46" y="714.4" text-anchor="middle" font-size="34">-1.5</text>
<text x="806.95" y="714.4" text-anchor="middle" font-size="34">0.0</text>
<text x="966.44" y="714.4" text-anchor="middle" font-size="34">1.5</text>
<text x="586" y="442.19" text-anchor="end" font-size="34">0.5</text>
<text x="586" y="530.8" text-anchor="end" font-size="34">0.0</text>
<text x="586" y="619.41" text-anchor="end" font-size="34">-0.5</text>
<text x="486.2" y="64.1" font-size="37">(a)</text>
<text x="974.3" y="64.1" font-size="37">(b)</text>
<text x="485.6" y="415.5" font-size="37">(c)</text>
<text x="971" y="416.3" font-size="37">(d)</text>
<text x="110.37" y="124.8" font-size="30">G</text>
<text x="131.24" y="132.4" font-size="20">0</text>
<text x="147.5" y="127.2" font-size="30">=</text>
<text x="171.26" y="124.8" font-size="30" letter-spacing="-0.6">0.125G</text>
<g transform="translate(111.6 170)" fill="none" stroke="#000" stroke-linecap="round"><path d="M1.0 -15.2C1.2 -19.6 4.9 -21.4 6.2 -17.0C7.5 -12.6 9.2 -5.6 10.6 -2.8C11.6 -0.8 13.5 -0.7 14.3 -3.6" stroke-width="1.5"/><path d="M6.9 -11.0L1.2 -1.3" stroke-width="2.6"/></g>
<text x="126.62" y="158.1" font-size="20">R</text>
<text x="127" y="177.7" font-size="20">A</text>
<text x="146.9" y="172.4" font-size="30">=</text>
<text x="171.5" y="170" font-size="30" letter-spacing="-0.6">4G</text>
<g transform="translate(221.5 170)" fill="none" stroke="#000" stroke-linecap="round"><path d="M1.0 -15.2C1.2 -19.6 4.9 -21.4 6.2 -17.0C7.5 -12.6 9.2 -5.6 10.6 -2.8C11.6 -0.8 13.5 -0.7 14.3 -3.6" stroke-width="1.5"/><path d="M6.9 -11.0L1.2 -1.3" stroke-width="2.6"/></g>
<text x="236.52" y="158.1" font-size="20">L</text>
<text x="236.9" y="177.7" font-size="20">A</text>
<text x="256.1" y="172.4" font-size="30">=</text>
<text x="279.86" y="170" font-size="30" letter-spacing="-0.6">0.5G</text>
<g transform="translate(349.3 170)" fill="none" stroke="#000" stroke-linecap="round"><path d="M1.0 -15.2C1.2 -19.6 4.9 -21.4 6.2 -17.0C7.5 -12.6 9.2 -5.6 10.6 -2.8C11.6 -0.8 13.5 -0.7 14.3 -3.6" stroke-width="1.5"/><path d="M6.9 -11.0L1.2 -1.3" stroke-width="2.6"/></g>
<text x="364.02" y="158.1" font-size="20">R</text>
<text x="364.02" y="177.7" font-size="20">B</text>
<text x="383.3" y="172.4" font-size="30">=</text>
<g transform="translate(408.5 170)" fill="none" stroke="#000" stroke-linecap="round"><path d="M1.0 -15.2C1.2 -19.6 4.9 -21.4 6.2 -17.0C7.5 -12.6 9.2 -5.6 10.6 -2.8C11.6 -0.8 13.5 -0.7 14.3 -3.6" stroke-width="1.5"/><path d="M6.9 -11.0L1.2 -1.3" stroke-width="2.6"/></g>
<text x="423.42" y="158.1" font-size="20">L</text>
<text x="423.42" y="177.7" font-size="20">B</text>
<text x="442.1" y="172.4" font-size="30">=</text>
<text x="465.98" y="170" font-size="30" letter-spacing="-0.6">2G</text>
<text x="609.27" y="124.6" font-size="30">G</text>
<text x="630.14" y="132.2" font-size="20">0</text>
<text x="645.9" y="127" font-size="30">=</text>
<text x="669.26" y="124.6" font-size="30" letter-spacing="-0.6">0.125G</text>
<g transform="translate(610.4 174)" fill="none" stroke="#000" stroke-linecap="round"><path d="M1.0 -15.2C1.2 -19.6 4.9 -21.4 6.2 -17.0C7.5 -12.6 9.2 -5.6 10.6 -2.8C11.6 -0.8 13.5 -0.7 14.3 -3.6" stroke-width="1.5"/><path d="M6.9 -11.0L1.2 -1.3" stroke-width="2.6"/></g>
<text x="625.42" y="162.1" font-size="20">R</text>
<text x="625.8" y="181.7" font-size="20">A</text>
<text x="645.7" y="176.4" font-size="30">=</text>
<text x="669.08" y="174" font-size="30" letter-spacing="-0.6">2G</text>
<g transform="translate(719.5 174)" fill="none" stroke="#000" stroke-linecap="round"><path d="M1.0 -15.2C1.2 -19.6 4.9 -21.4 6.2 -17.0C7.5 -12.6 9.2 -5.6 10.6 -2.8C11.6 -0.8 13.5 -0.7 14.3 -3.6" stroke-width="1.5"/><path d="M6.9 -11.0L1.2 -1.3" stroke-width="2.6"/></g>
<text x="734.52" y="162.1" font-size="20">R</text>
<text x="734.52" y="181.7" font-size="20">B</text>
<text x="753.7" y="176.4" font-size="30">=</text>
<g transform="translate(779 174)" fill="none" stroke="#000" stroke-linecap="round"><path d="M1.0 -15.2C1.2 -19.6 4.9 -21.4 6.2 -17.0C7.5 -12.6 9.2 -5.6 10.6 -2.8C11.6 -0.8 13.5 -0.7 14.3 -3.6" stroke-width="1.5"/><path d="M6.9 -11.0L1.2 -1.3" stroke-width="2.6"/></g>
<text x="794.02" y="162.1" font-size="20">L</text>
<text x="794.4" y="181.7" font-size="20">A</text>
<text x="813.6" y="176.4" font-size="30">=</text>
<g transform="translate(838.9 174)" fill="none" stroke="#000" stroke-linecap="round"><path d="M1.0 -15.2C1.2 -19.6 4.9 -21.4 6.2 -17.0C7.5 -12.6 9.2 -5.6 10.6 -2.8C11.6 -0.8 13.5 -0.7 14.3 -3.6" stroke-width="1.5"/><path d="M6.9 -11.0L1.2 -1.3" stroke-width="2.6"/></g>
<text x="853.52" y="162.1" font-size="20">L</text>
<text x="853.52" y="181.7" font-size="20">B</text>
<text x="872.2" y="176.4" font-size="30">=</text>
<text x="896.77" y="174" font-size="30">G</text>
<text x="109.47" y="411.9" font-size="30">G</text>
<text x="130.34" y="419.5" font-size="20">0</text>
<text x="146.1" y="414.3" font-size="30">=</text>
<text x="169.66" y="411.9" font-size="30" letter-spacing="-0.6">0.5G</text>
<g transform="translate(110.7 456.2)" fill="none" stroke="#000" stroke-linecap="round"><path d="M1.0 -15.2C1.2 -19.6 4.9 -21.4 6.2 -17.0C7.5 -12.6 9.2 -5.6 10.6 -2.8C11.6 -0.8 13.5 -0.7 14.3 -3.6" stroke-width="1.5"/><path d="M6.9 -11.0L1.2 -1.3" stroke-width="2.6"/></g>
<text x="126.22" y="444.3" font-size="20">R</text>
<text x="126.6" y="463.9" font-size="20">A</text>
<text x="146.1" y="458.6" font-size="30">=</text>
<text x="169.48" y="456.2" font-size="30" letter-spacing="-0.6">2G</text>
<g transform="translate(220.3 456.2)" fill="none" stroke="#000" stroke-linecap="round"><path d="M1.0 -15.2C1.2 -19.6 4.9 -21.4 6.2 -17.0C7.5 -12.6 9.2 -5.6 10.6 -2.8C11.6 -0.8 13.5 -0.7 14.3 -3.6" stroke-width="1.5"/><path d="M6.9 -11.0L1.2 -1.3" stroke-width="2.6"/></g>
<text x="234.92" y="444.3" font-size="20">L</text>
<text x="235.3" y="463.9" font-size="20">A</text>
<text x="255" y="458.6" font-size="30">=</text>
<text x="279.47" y="456.2" font-size="30">G</text>
<g transform="translate(312.9 456.2)" fill="none" stroke="#000" stroke-linecap="round"><path d="M1.0 -15.2C1.2 -19.6 4.9 -21.4 6.2 -17.0C7.5 -12.6 9.2 -5.6 10.6 -2.8C11.6 -0.8 13.5 -0.7 14.3 -3.6" stroke-width="1.5"/><path d="M6.9 -11.0L1.2 -1.3" stroke-width="2.6"/></g>
<text x="327.52" y="444.3" font-size="20">R</text>
<text x="327.52" y="463.9" font-size="20">B</text>
<text x="347.1" y="458.6" font-size="30">=</text>
<g transform="translate(372.5 456.2)" fill="none" stroke="#000" stroke-linecap="round"><path d="M1.0 -15.2C1.2 -19.6 4.9 -21.4 6.2 -17.0C7.5 -12.6 9.2 -5.6 10.6 -2.8C11.6 -0.8 13.5 -0.7 14.3 -3.6" stroke-width="1.5"/><path d="M6.9 -11.0L1.2 -1.3" stroke-width="2.6"/></g>
<text x="387.12" y="444.3" font-size="20">L</text>
<text x="387.12" y="463.9" font-size="20">B</text>
<text x="406.5" y="458.6" font-size="30">=</text>
<text x="429.57" y="456.2" font-size="30">G</text>
<text x="826.47" y="488.7" font-size="30">G</text>
<text x="847.34" y="496.3" font-size="20">0</text>
<text x="863" y="491.1" font-size="30">=</text>
<text x="886.86" y="488.7" font-size="30" letter-spacing="-0.6">0.25G</text>
<g transform="translate(626.8 534)" fill="none" stroke="#000" stroke-linecap="round"><path d="M1.0 -15.2C1.2 -19.6 4.9 -21.4 6.2 -17.0C7.5 -12.6 9.2 -5.6 10.6 -2.8C11.6 -0.8 13.5 -0.7 14.3 -3.6" stroke-width="1.5"/><path d="M6.9 -11.0L1.2 -1.3" stroke-width="2.6"/></g>
<text x="642.42" y="522.1" font-size="20">R</text>
<text x="642.8" y="541.7" font-size="20">A</text>
<text x="662.4" y="536.4" font-size="30">=</text>
<text x="685.7" y="534" font-size="30" letter-spacing="-0.6">4G</text>
<g transform="translate(736.1 534)" fill="none" stroke="#000" stroke-linecap="round"><path d="M1.0 -15.2C1.2 -19.6 4.9 -21.4 6.2 -17.0C7.5 -12.6 9.2 -5.6 10.6 -2.8C11.6 -0.8 13.5 -0.7 14.3 -3.6" stroke-width="1.5"/><path d="M6.9 -11.0L1.2 -1.3" stroke-width="2.6"/></g>
<text x="751.92" y="522.1" font-size="20">L</text>
<text x="752.3" y="541.7" font-size="20">A</text>
<text x="771.7" y="536.4" font-size="30">=</text>
<text x="794.9" y="535.9" font-size="30">−</text>
<text x="818.6" y="534" font-size="30" letter-spacing="-0.6">4G</text>
<g transform="translate(866.3 534)" fill="none" stroke="#000" stroke-linecap="round"><path d="M1.0 -15.2C1.2 -19.6 4.9 -21.4 6.2 -17.0C7.5 -12.6 9.2 -5.6 10.6 -2.8C11.6 -0.8 13.5 -0.7 14.3 -3.6" stroke-width="1.5"/><path d="M6.9 -11.0L1.2 -1.3" stroke-width="2.6"/></g>
<text x="881.42" y="522.1" font-size="20">R</text>
<text x="881.42" y="541.7" font-size="20">B</text>
<text x="899.5" y="536.4" font-size="30">=</text>
<g transform="translate(925.4 534)" fill="none" stroke="#000" stroke-linecap="round"><path d="M1.0 -15.2C1.2 -19.6 4.9 -21.4 6.2 -17.0C7.5 -12.6 9.2 -5.6 10.6 -2.8C11.6 -0.8 13.5 -0.7 14.3 -3.6" stroke-width="1.5"/><path d="M6.9 -11.0L1.2 -1.3" stroke-width="2.6"/></g>
<text x="939.72" y="522.1" font-size="20">L</text>
<text x="939.72" y="541.7" font-size="20">B</text>
<text x="960.1" y="536.4" font-size="30">=</text>
<text x="982.97" y="534" font-size="30">G</text>
<path d="M270.4 575.6 H351.2" stroke="#000" stroke-width="4.4" stroke-linecap="round"/>
<path d="M408.3 575.6 H489.4" stroke="#ff0080" stroke-width="4.4" stroke-linecap="round"/>
<path d="M270.3 624 H351.2" stroke="#0000ff" stroke-width="4.1" stroke-linecap="round" stroke-dasharray="18 24.4"/>
<path d="M408.2 624 H489.4" stroke="#00ff00" stroke-width="4.1" stroke-linecap="round" stroke-dasharray="18 24.4"/>
<text x="361.04" y="587.2" font-size="37.5">e</text>
<text x="377.5" y="597.2" font-size="26">1</text>
<text x="499.14" y="587.2" font-size="37.5">e</text>
<text x="515.6" y="597.2" font-size="26">2</text>
<text x="361.04" y="636" font-size="37.5">e</text>
<text x="377.5" y="646" font-size="26">3</text>
<text x="499.14" y="636" font-size="37.5">e</text>
<text x="515.6" y="646" font-size="26">4</text>
<g transform="translate(33.3 197.8) rotate(-90)">
<text x="0" y="0" font-size="48">e</text>
<text x="21.1" y="12" font-size="32">n</text>
<text x="38.9" y="0" font-size="48">/</text>
<text x="51.1" y="0" font-size="48">G</text>
</g>
<g transform="translate(33.3 564.1) rotate(-90)">
<text x="0" y="0" font-size="48">e</text>
<text x="21.1" y="12" font-size="32">n</text>
<text x="38.9" y="0" font-size="48">/</text>
<text x="51.1" y="0" font-size="48">G</text>
</g>
<text x="319.5" y="765.2" font-size="46">W</text>
<text x="786.9" y="765.2" font-size="46">W</text>
</svg></body></html>
